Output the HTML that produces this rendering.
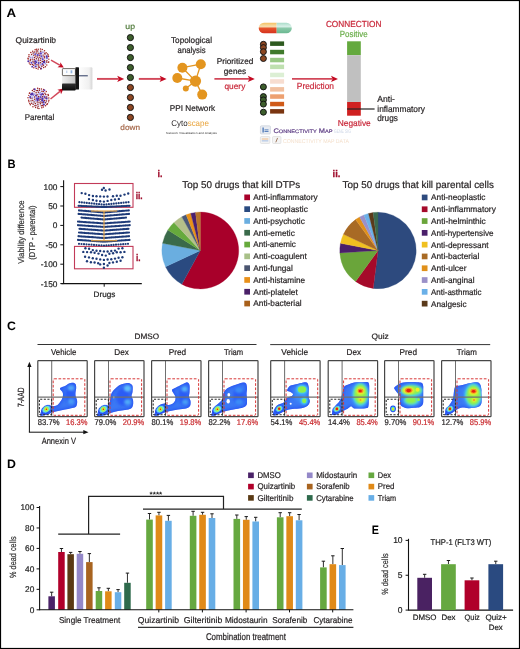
<!DOCTYPE html>
<html><head><meta charset="utf-8"><style>
html,body{margin:0;padding:0;background:#fff;}
svg{display:block;will-change:transform;text-rendering:geometricPrecision;font-family:"Liberation Sans", sans-serif;}
</style></head><body>
<svg width="520" height="649" viewBox="0 0 520 649">
<rect x="0" y="0" width="520" height="649" fill="#fff"/>
<text x="6.60" y="16.85" font-size="12.2" fill="#000" textLength="9.60" lengthAdjust="spacingAndGlyphs" font-weight="bold" >A</text><text x="15.60" y="43.10" font-size="8.3" fill="#231f20" stroke="#231f20" stroke-width="0.2" textLength="40.40" lengthAdjust="spacingAndGlyphs" >Quizartinib</text><ellipse cx="38.6" cy="59" rx="9.35" ry="8.94" fill="#e8eaf8"/><circle cx="38.56" cy="59.09" r="0.74" fill="#8c1b1b" /><circle cx="40.61" cy="60.34" r="0.74" fill="#9b1f1f" /><circle cx="38.78" cy="60.78" r="0.74" fill="#a52626" /><circle cx="37.13" cy="60.58" r="0.95" fill="#a89ce0" /><circle cx="36.41" cy="58.64" r="0.74" fill="#8c1b1b" /><circle cx="37.29" cy="56.97" r="0.74" fill="#9b1f1f" /><circle cx="39.21" cy="57.26" r="0.74" fill="#a52626" /><circle cx="40.79" cy="58.36" r="0.74" fill="#8c1b1b" /><circle cx="35.78" cy="55.96" r="0.74" fill="#9b1f1f" /><circle cx="37.79" cy="55.04" r="1.14" fill="#6444bc" /><circle cx="39.77" cy="55.16" r="0.74" fill="#9b1f1f" /><circle cx="41.47" cy="56.28" r="1.08" fill="#6444bc" /><circle cx="42.50" cy="57.88" r="0.95" fill="#a89ce0" /><circle cx="42.75" cy="59.28" r="0.99" fill="#6444bc" /><circle cx="42.31" cy="61.50" r="0.74" fill="#8c1b1b" /><circle cx="40.52" cy="62.86" r="0.74" fill="#8c1b1b" /><circle cx="38.62" cy="63.03" r="0.97" fill="#5838b0" /><circle cx="36.24" cy="62.32" r="0.97" fill="#5030a8" /><circle cx="35.12" cy="61.36" r="1.06" fill="#5030a8" /><circle cx="34.30" cy="59.49" r="0.74" fill="#a52626" /><circle cx="34.58" cy="57.56" r="0.74" fill="#9b1f1f" /><circle cx="38.83" cy="53.17" r="0.74" fill="#a52626" /><circle cx="40.79" cy="53.42" r="1.17" fill="#6444bc" /><circle cx="43.18" cy="55.12" r="0.74" fill="#a52626" /><circle cx="44.22" cy="56.53" r="0.74" fill="#9b1f1f" /><circle cx="44.56" cy="57.84" r="0.74" fill="#a52626" /><circle cx="44.45" cy="60.49" r="0.74" fill="#9b1f1f" /><circle cx="44.00" cy="61.88" r="1.19" fill="#5030a8" /><circle cx="42.54" cy="64.03" r="1.13" fill="#6444bc" /><circle cx="40.53" cy="64.89" r="0.95" fill="#a89ce0" /><circle cx="38.56" cy="64.92" r="0.74" fill="#9b1f1f" /><circle cx="36.92" cy="64.71" r="0.74" fill="#9b1f1f" /><circle cx="35.23" cy="63.75" r="0.98" fill="#5030a8" /><circle cx="34.02" cy="62.70" r="0.74" fill="#9b1f1f" /><circle cx="32.98" cy="61.19" r="0.74" fill="#8c1b1b" /><circle cx="32.44" cy="59.12" r="0.74" fill="#9b1f1f" /><circle cx="32.59" cy="57.33" r="0.95" fill="#a89ce0" /><circle cx="33.85" cy="55.28" r="0.74" fill="#8c1b1b" /><circle cx="35.25" cy="54.12" r="0.99" fill="#5838b0" /><circle cx="36.80" cy="52.95" r="0.74" fill="#8c1b1b" /><circle cx="30.39" cy="57.61" r="0.95" fill="#a89ce0" /><circle cx="31.59" cy="54.48" r="0.74" fill="#a52626" /><circle cx="33.20" cy="53.07" r="0.74" fill="#8c1b1b" /><circle cx="34.73" cy="52.08" r="0.74" fill="#9b1f1f" /><circle cx="36.61" cy="51.06" r="0.74" fill="#9b1f1f" /><circle cx="37.73" cy="51.09" r="0.74" fill="#9b1f1f" /><circle cx="40.77" cy="51.34" r="0.74" fill="#8c1b1b" /><circle cx="42.93" cy="52.24" r="0.95" fill="#a89ce0" /><circle cx="44.83" cy="53.29" r="0.74" fill="#9b1f1f" /><circle cx="45.00" cy="53.95" r="0.74" fill="#a52626" /><circle cx="46.72" cy="56.31" r="1.07" fill="#5030a8" /><circle cx="46.94" cy="57.89" r="0.98" fill="#6444bc" /><circle cx="46.92" cy="60.62" r="0.74" fill="#9b1f1f" /><circle cx="46.41" cy="62.00" r="0.74" fill="#8c1b1b" /><circle cx="45.29" cy="63.62" r="0.95" fill="#a89ce0" /><circle cx="43.36" cy="65.26" r="0.74" fill="#9b1f1f" /><circle cx="41.86" cy="66.30" r="0.74" fill="#8c1b1b" /><circle cx="39.51" cy="67.23" r="0.74" fill="#a52626" /><circle cx="38.50" cy="66.99" r="0.74" fill="#8c1b1b" /><circle cx="35.64" cy="66.46" r="1.06" fill="#5838b0" /><circle cx="33.69" cy="65.19" r="0.74" fill="#a52626" /><circle cx="32.30" cy="64.45" r="0.74" fill="#8c1b1b" /><circle cx="31.52" cy="62.70" r="1.04" fill="#6444bc" /><circle cx="30.23" cy="60.63" r="0.74" fill="#8c1b1b" /><circle cx="30.53" cy="59.43" r="0.74" fill="#a52626" /><circle cx="40.55" cy="49.07" r="0.74" fill="#9b1f1f" /><circle cx="42.32" cy="49.58" r="0.74" fill="#a52626" /><circle cx="44.52" cy="50.83" r="0.74" fill="#9b1f1f" /><circle cx="46.16" cy="52.64" r="0.74" fill="#9b1f1f" /><circle cx="47.49" cy="53.88" r="0.74" fill="#9b1f1f" /><circle cx="48.21" cy="55.07" r="0.74" fill="#8c1b1b" /><circle cx="48.50" cy="56.57" r="0.74" fill="#a52626" /><circle cx="48.80" cy="59.13" r="0.74" fill="#a52626" /><circle cx="48.77" cy="62.00" r="0.74" fill="#a52626" /><circle cx="48.12" cy="62.27" r="0.74" fill="#9b1f1f" /><circle cx="46.79" cy="65.01" r="0.74" fill="#a52626" /><circle cx="45.39" cy="66.84" r="0.74" fill="#8c1b1b" /><circle cx="43.68" cy="67.55" r="0.74" fill="#9b1f1f" /><circle cx="41.11" cy="68.44" r="1.05" fill="#6444bc" /><circle cx="40.76" cy="68.81" r="0.74" fill="#8c1b1b" /><circle cx="38.09" cy="68.92" r="0.74" fill="#9b1f1f" /><circle cx="36.23" cy="68.38" r="0.74" fill="#a52626" /><circle cx="33.84" cy="67.77" r="0.74" fill="#a52626" /><circle cx="32.21" cy="66.64" r="0.98" fill="#5838b0" /><circle cx="30.28" cy="64.48" r="0.74" fill="#9b1f1f" /><circle cx="29.30" cy="62.90" r="0.74" fill="#a52626" /><circle cx="28.36" cy="61.21" r="1.05" fill="#5030a8" /><circle cx="28.18" cy="59.05" r="0.74" fill="#9b1f1f" /><circle cx="28.05" cy="58.30" r="0.74" fill="#9b1f1f" /><circle cx="28.92" cy="56.44" r="0.74" fill="#a52626" /><circle cx="28.97" cy="54.72" r="0.74" fill="#9b1f1f" /><circle cx="30.83" cy="52.59" r="0.74" fill="#a52626" /><circle cx="32.73" cy="51.18" r="0.74" fill="#9b1f1f" /><circle cx="35.10" cy="49.83" r="0.74" fill="#a52626" /><circle cx="36.38" cy="49.29" r="0.74" fill="#a52626" /><circle cx="38.21" cy="49.30" r="0.74" fill="#9b1f1f" /><ellipse cx="38.6" cy="98.3" rx="9.35" ry="8.94" fill="#e8eaf8"/><circle cx="38.27" cy="98.34" r="1.19" fill="#5030a8" /><circle cx="36.71" cy="98.43" r="1.06" fill="#6444bc" /><circle cx="36.82" cy="96.72" r="0.95" fill="#a89ce0" /><circle cx="38.65" cy="96.42" r="0.74" fill="#9b1f1f" /><circle cx="40.58" cy="97.16" r="1.05" fill="#6444bc" /><circle cx="40.82" cy="99.16" r="0.74" fill="#8c1b1b" /><circle cx="39.26" cy="100.10" r="0.74" fill="#9b1f1f" /><circle cx="37.52" cy="100.00" r="1.19" fill="#5030a8" /><circle cx="38.98" cy="102.29" r="0.74" fill="#a52626" /><circle cx="37.25" cy="102.03" r="0.74" fill="#8c1b1b" /><circle cx="35.59" cy="100.67" r="0.95" fill="#a89ce0" /><circle cx="34.70" cy="99.16" r="0.74" fill="#9b1f1f" /><circle cx="34.58" cy="97.08" r="0.74" fill="#8c1b1b" /><circle cx="36.00" cy="95.47" r="0.99" fill="#5030a8" /><circle cx="37.15" cy="94.85" r="0.74" fill="#9b1f1f" /><circle cx="39.09" cy="93.99" r="0.95" fill="#a89ce0" /><circle cx="41.16" cy="94.77" r="1.10" fill="#6444bc" /><circle cx="42.53" cy="96.85" r="0.74" fill="#8c1b1b" /><circle cx="42.49" cy="98.67" r="1.17" fill="#5030a8" /><circle cx="42.34" cy="100.44" r="1.18" fill="#5030a8" /><circle cx="40.80" cy="101.98" r="0.74" fill="#8c1b1b" /><circle cx="33.34" cy="94.82" r="1.01" fill="#5838b0" /><circle cx="34.01" cy="94.08" r="0.95" fill="#a89ce0" /><circle cx="36.13" cy="92.83" r="0.74" fill="#9b1f1f" /><circle cx="38.43" cy="92.19" r="0.74" fill="#9b1f1f" /><circle cx="40.19" cy="92.79" r="0.95" fill="#a89ce0" /><circle cx="42.41" cy="93.88" r="1.14" fill="#6444bc" /><circle cx="43.25" cy="94.70" r="0.74" fill="#8c1b1b" /><circle cx="44.50" cy="96.87" r="1.07" fill="#6444bc" /><circle cx="45.14" cy="97.96" r="0.74" fill="#9b1f1f" /><circle cx="44.50" cy="100.58" r="0.74" fill="#9b1f1f" /><circle cx="43.64" cy="102.03" r="1.11" fill="#5838b0" /><circle cx="42.19" cy="102.86" r="0.74" fill="#8c1b1b" /><circle cx="40.38" cy="103.85" r="0.74" fill="#8c1b1b" /><circle cx="37.88" cy="104.23" r="0.74" fill="#9b1f1f" /><circle cx="35.35" cy="103.46" r="0.74" fill="#9b1f1f" /><circle cx="34.09" cy="102.00" r="0.74" fill="#8c1b1b" /><circle cx="32.79" cy="100.47" r="0.74" fill="#9b1f1f" /><circle cx="32.04" cy="98.62" r="0.74" fill="#9b1f1f" /><circle cx="32.36" cy="97.56" r="0.95" fill="#a89ce0" /><circle cx="43.80" cy="104.52" r="1.13" fill="#5838b0" /><circle cx="42.62" cy="105.55" r="0.74" fill="#9b1f1f" /><circle cx="41.33" cy="105.81" r="0.74" fill="#a52626" /><circle cx="38.09" cy="106.19" r="0.74" fill="#9b1f1f" /><circle cx="35.97" cy="105.51" r="0.74" fill="#a52626" /><circle cx="34.91" cy="105.74" r="0.74" fill="#8c1b1b" /><circle cx="33.12" cy="104.18" r="0.74" fill="#8c1b1b" /><circle cx="31.66" cy="103.18" r="0.74" fill="#9b1f1f" /><circle cx="31.05" cy="100.87" r="0.74" fill="#8c1b1b" /><circle cx="30.46" cy="97.99" r="0.74" fill="#8c1b1b" /><circle cx="30.21" cy="96.94" r="1.06" fill="#5838b0" /><circle cx="31.29" cy="94.32" r="1.19" fill="#5030a8" /><circle cx="32.19" cy="93.66" r="1.05" fill="#5030a8" /><circle cx="34.11" cy="91.49" r="0.74" fill="#9b1f1f" /><circle cx="36.30" cy="90.62" r="0.74" fill="#a52626" /><circle cx="37.45" cy="90.55" r="0.74" fill="#8c1b1b" /><circle cx="39.39" cy="90.28" r="0.74" fill="#8c1b1b" /><circle cx="41.94" cy="91.28" r="0.74" fill="#9b1f1f" /><circle cx="43.35" cy="91.45" r="0.74" fill="#9b1f1f" /><circle cx="44.96" cy="93.34" r="0.74" fill="#a52626" /><circle cx="45.73" cy="94.61" r="0.74" fill="#a52626" /><circle cx="46.69" cy="97.04" r="0.74" fill="#8c1b1b" /><circle cx="46.59" cy="98.45" r="1.05" fill="#5030a8" /><circle cx="46.38" cy="100.89" r="0.74" fill="#9b1f1f" /><circle cx="45.60" cy="102.69" r="0.74" fill="#8c1b1b" /><circle cx="27.99" cy="97.84" r="0.74" fill="#a52626" /><circle cx="28.77" cy="95.37" r="0.74" fill="#a52626" /><circle cx="29.37" cy="93.29" r="0.74" fill="#9b1f1f" /><circle cx="29.82" cy="93.11" r="0.74" fill="#a52626" /><circle cx="32.35" cy="90.39" r="0.74" fill="#8c1b1b" /><circle cx="33.79" cy="89.17" r="0.74" fill="#9b1f1f" /><circle cx="34.74" cy="89.34" r="0.98" fill="#5030a8" /><circle cx="37.62" cy="88.20" r="0.74" fill="#9b1f1f" /><circle cx="39.41" cy="88.71" r="0.74" fill="#9b1f1f" /><circle cx="41.45" cy="89.08" r="0.74" fill="#9b1f1f" /><circle cx="43.59" cy="89.58" r="0.74" fill="#9b1f1f" /><circle cx="44.37" cy="90.21" r="1.00" fill="#6444bc" /><circle cx="46.28" cy="91.53" r="0.74" fill="#a52626" /><circle cx="48.06" cy="94.60" r="0.74" fill="#9b1f1f" /><circle cx="48.37" cy="95.52" r="0.74" fill="#a52626" /><circle cx="48.83" cy="97.90" r="0.74" fill="#a52626" /><circle cx="48.87" cy="100.27" r="0.74" fill="#9b1f1f" /><circle cx="48.59" cy="101.87" r="0.74" fill="#9b1f1f" /><circle cx="47.48" cy="103.69" r="0.74" fill="#a52626" /><circle cx="46.90" cy="104.57" r="0.74" fill="#8c1b1b" /><circle cx="45.48" cy="105.72" r="0.74" fill="#9b1f1f" /><circle cx="43.39" cy="106.89" r="0.74" fill="#a52626" /><circle cx="41.81" cy="107.82" r="0.74" fill="#9b1f1f" /><circle cx="38.96" cy="108.48" r="0.74" fill="#8c1b1b" /><circle cx="37.56" cy="108.10" r="0.74" fill="#8c1b1b" /><circle cx="35.60" cy="107.49" r="0.74" fill="#a52626" /><circle cx="32.95" cy="106.78" r="0.74" fill="#9b1f1f" /><circle cx="30.38" cy="104.81" r="0.74" fill="#9b1f1f" /><circle cx="29.78" cy="103.56" r="0.74" fill="#a52626" /><circle cx="28.94" cy="101.70" r="0.74" fill="#a52626" /><circle cx="28.68" cy="100.17" r="0.74" fill="#9b1f1f" /><text x="24.80" y="119.50" font-size="8.4" fill="#231f20" stroke="#231f20" stroke-width="0.2" textLength="29.40" lengthAdjust="spacingAndGlyphs" >Parental</text><line x1="51.00" y1="60.20" x2="59.79" y2="65.14" stroke="#d2485a" stroke-width="1.5" /><path d="M63.80,67.40 L57.50,67.18 L60.14,65.34 L60.34,62.13 Z" fill="#c40a22"/><line x1="50.50" y1="99.00" x2="60.00" y2="91.46" stroke="#d2485a" stroke-width="1.5" /><path d="M63.60,88.60 L61.02,94.35 L60.31,91.21 L57.41,89.81 Z" fill="#c40a22"/><defs>
<linearGradient id="seqR" x1="0" x2="1" y1="0" y2="0"><stop offset="0" stop-color="#fdfdfd"/><stop offset="0.75" stop-color="#f0f0f0"/><stop offset="1" stop-color="#d6d6d6"/></linearGradient>
<linearGradient id="seqM" x1="0" x2="1"><stop offset="0" stop-color="#f0f0f0"/><stop offset="1" stop-color="#c4c4c4"/></linearGradient>
<linearGradient id="seqB" x1="0" x2="0" y1="0" y2="1"><stop offset="0" stop-color="#333"/><stop offset="1" stop-color="#0a0a0a"/></linearGradient>
</defs><rect x="79.00" y="67.30" width="13.40" height="22.30" fill="url(#seqR)" rx="1.2"/><rect x="62.00" y="76.00" width="13.80" height="8.00" fill="url(#seqM)" /><rect x="62.00" y="83.40" width="13.80" height="7.00" fill="url(#seqB)" rx="0.8"/><rect x="62.40" y="68.60" width="13.00" height="7.00" fill="#fbfcfd" stroke="#5f5a55" stroke-width="0.9" rx="0.6"/><rect x="66.00" y="70.60" width="1.40" height="2.40" fill="#c4d4ec" /><rect x="70.60" y="70.30" width="1.70" height="3.00" fill="#8fb2e0" /><rect x="75.40" y="67.30" width="3.60" height="22.30" fill="#141414" rx="0.6"/><rect x="79.00" y="75.30" width="8.80" height="1.00" fill="#2c3a62" /><line x1="97.00" y1="78.90" x2="118.70" y2="78.90" stroke="#d2485a" stroke-width="1.9" /><path d="M124.20,78.90 L117.20,75.80 L118.80,78.90 L117.20,82.00 Z" fill="#c40a22"/><line x1="138.80" y1="78.90" x2="161.10" y2="78.90" stroke="#d2485a" stroke-width="1.9" /><path d="M166.60,78.90 L159.60,75.80 L161.20,78.90 L159.60,82.00 Z" fill="#c40a22"/><line x1="214.40" y1="78.90" x2="249.30" y2="78.90" stroke="#d2485a" stroke-width="1.9" /><path d="M254.80,78.90 L247.80,75.80 L249.40,78.90 L247.80,82.00 Z" fill="#c40a22"/><line x1="292.00" y1="78.90" x2="332.50" y2="78.90" stroke="#d2485a" stroke-width="1.9" /><path d="M338.00,78.90 L331.00,75.80 L332.60,78.90 L331.00,82.00 Z" fill="#c40a22"/><text x="125.30" y="29.40" font-size="8.0" fill="#4f7a3a" stroke="#4f7a3a" stroke-width="0.2" textLength="9.70" lengthAdjust="spacingAndGlyphs" >up</text><circle cx="130.40" cy="37.60" r="3.10" fill="#3d5e2c" stroke="#111" stroke-width="0.95"/><circle cx="130.40" cy="47.58" r="3.10" fill="#3d5e2c" stroke="#111" stroke-width="0.95"/><circle cx="130.40" cy="57.56" r="3.10" fill="#3d5e2c" stroke="#111" stroke-width="0.95"/><circle cx="130.40" cy="67.54" r="3.10" fill="#3d5e2c" stroke="#111" stroke-width="0.95"/><circle cx="130.40" cy="77.52" r="3.10" fill="#3d5e2c" stroke="#111" stroke-width="0.95"/><circle cx="130.40" cy="87.50" r="3.10" fill="#8c4622" stroke="#111" stroke-width="0.95"/><circle cx="130.40" cy="97.48" r="3.10" fill="#8c4622" stroke="#111" stroke-width="0.95"/><circle cx="130.40" cy="107.46" r="3.10" fill="#8c4622" stroke="#111" stroke-width="0.95"/><circle cx="130.40" cy="117.44" r="3.10" fill="#8c4622" stroke="#111" stroke-width="0.95"/><text x="120.30" y="129.70" font-size="7.8" fill="#a5684a" stroke="#a5684a" stroke-width="0.2" textLength="19.70" lengthAdjust="spacingAndGlyphs" >down</text><text x="171.00" y="43.40" font-size="8.5" fill="#231f20" stroke="#231f20" stroke-width="0.2" textLength="41.00" lengthAdjust="spacingAndGlyphs" >Topological</text><text x="177.60" y="52.70" font-size="8.5" fill="#231f20" stroke="#231f20" stroke-width="0.2" textLength="28.00" lengthAdjust="spacingAndGlyphs" >analysis</text><line x1="182.40" y1="67.70" x2="200.80" y2="64.20" stroke="#e3951f" stroke-width="1.3" /><line x1="182.40" y1="67.70" x2="195.50" y2="81.10" stroke="#e3951f" stroke-width="1.3" /><line x1="200.80" y1="64.20" x2="195.50" y2="81.10" stroke="#e3951f" stroke-width="1.3" /><line x1="177.30" y1="78.00" x2="195.50" y2="81.10" stroke="#e3951f" stroke-width="1.3" /><line x1="185.80" y1="88.50" x2="195.50" y2="81.10" stroke="#e3951f" stroke-width="1.3" /><line x1="195.50" y1="81.10" x2="202.20" y2="94.60" stroke="#e3951f" stroke-width="1.3" /><circle cx="182.40" cy="67.70" r="5.00" fill="#e3951f" /><circle cx="200.80" cy="64.20" r="5.00" fill="#e3951f" /><circle cx="177.30" cy="78.00" r="5.00" fill="#e3951f" /><circle cx="195.50" cy="81.10" r="5.60" fill="#e3951f" /><circle cx="185.80" cy="88.50" r="3.00" fill="#e3951f" /><circle cx="202.20" cy="94.60" r="5.00" fill="#e3951f" /><text x="169.80" y="110.60" font-size="8.2" fill="#231f20" stroke="#231f20" stroke-width="0.2" textLength="45.40" lengthAdjust="spacingAndGlyphs" >PPI Network</text><text x="171.3" y="125.6" font-size="8.4" fill="#231f20" textLength="37.6" lengthAdjust="spacingAndGlyphs">Cyto<tspan fill="#e9a43c">scape</tspan></text><text x="166" y="133.9" font-size="2.9" fill="#3a3a3a" textLength="51" lengthAdjust="spacingAndGlyphs">Network Visualization and Analysis</text><text x="216.70" y="64.00" font-size="8.2" fill="#231f20" stroke="#231f20" stroke-width="0.2" textLength="36.60" lengthAdjust="spacingAndGlyphs" >Prioritized</text><text x="223.80" y="73.70" font-size="8.2" fill="#231f20" stroke="#231f20" stroke-width="0.2" textLength="22.40" lengthAdjust="spacingAndGlyphs" >genes</text><text x="224.50" y="88.80" font-size="8.2" fill="#c9283a" stroke="#c9283a" stroke-width="0.2" textLength="20.80" lengthAdjust="spacingAndGlyphs" >query</text><defs><linearGradient id="pillL" x1="0" x2="0" y1="0" y2="1"><stop offset="0" stop-color="#f5c060"/><stop offset="0.35" stop-color="#f7e0b0"/><stop offset="0.55" stop-color="#e5522a"/><stop offset="1" stop-color="#d5321e"/></linearGradient>
<linearGradient id="pillR" x1="0" x2="0" y1="0" y2="1"><stop offset="0" stop-color="#a8dcc8"/><stop offset="0.35" stop-color="#d8f0e8"/><stop offset="0.55" stop-color="#88c8a8"/><stop offset="1" stop-color="#6ab890"/></linearGradient></defs><path d="M276.7,22.7 L264,22.7 A5.3,5.3 0 0 0 264,33.3 L276.7,33.3 Z" fill="url(#pillL)"/><path d="M276.7,22.7 L286.5,22.7 A5.3,5.3 0 0 1 286.5,33.3 L276.7,33.3 Z" fill="url(#pillR)"/><rect x="270.10" y="41.40" width="14.00" height="4.50" fill="#2d5a1f" /><rect x="270.10" y="49.80" width="14.00" height="4.50" fill="#3f7a2b" /><rect x="270.10" y="57.80" width="14.00" height="4.50" fill="#98c884" /><rect x="270.10" y="64.60" width="14.00" height="4.50" fill="#bfe0b0" /><rect x="270.10" y="72.70" width="14.00" height="4.50" fill="#dcefd4" /><rect x="270.10" y="79.20" width="14.00" height="4.50" fill="#f7ddd0" /><rect x="270.10" y="87.10" width="14.00" height="4.50" fill="#f1c0a0" /><rect x="270.10" y="94.30" width="14.00" height="4.50" fill="#eda070" /><rect x="270.10" y="101.80" width="14.00" height="4.50" fill="#d05a18" /><rect x="270.10" y="109.10" width="14.00" height="4.50" fill="#7a3510" /><circle cx="263.40" cy="44.30" r="3.00" fill="#8c4622" stroke="#111" stroke-width="0.95"/><circle cx="263.40" cy="47.60" r="3.00" fill="#8c4622" stroke="#111" stroke-width="0.95"/><circle cx="263.40" cy="51.70" r="3.00" fill="#8c4622" stroke="#111" stroke-width="0.95"/><circle cx="263.40" cy="58.50" r="3.00" fill="#8c4622" stroke="#111" stroke-width="0.95"/><circle cx="263.40" cy="86.90" r="3.00" fill="#3d5e2c" stroke="#111" stroke-width="0.95"/><circle cx="263.40" cy="96.60" r="3.00" fill="#3d5e2c" stroke="#111" stroke-width="0.95"/><circle cx="263.40" cy="99.90" r="3.00" fill="#3d5e2c" stroke="#111" stroke-width="0.95"/><circle cx="263.40" cy="104.10" r="3.00" fill="#3d5e2c" stroke="#111" stroke-width="0.95"/><circle cx="263.40" cy="112.20" r="3.00" fill="#3d5e2c" stroke="#111" stroke-width="0.95"/><rect x="260.40" y="125.80" width="10.00" height="8.20" fill="#e8ecf2" rx="1" stroke="#b8c0cc" stroke-width="0.5"/><rect x="262.50" y="127.50" width="1.20" height="5.00" fill="#3a6ab0" /><rect x="264.50" y="129.50" width="4.00" height="0.80" fill="#3a6ab0" /><rect x="264.50" y="131.20" width="4.00" height="0.80" fill="#3a6ab0" /><defs><linearGradient id="cmf" x1="0" x2="1"><stop offset="0" stop-color="#c8d0e8"/><stop offset="1" stop-color="#ffffff"/></linearGradient><linearGradient id="cmf2" x1="0" x2="1"><stop offset="0" stop-color="#f0d8b8"/><stop offset="1" stop-color="#ffffff"/></linearGradient></defs><text x="334" y="132.6" font-size="5.2" fill="#c0cce0" textLength="17" lengthAdjust="spacingAndGlyphs" opacity="0.8">GENE SIG</text><text x="273.4" y="133.0" font-size="6.6" fill="#65468a" stroke="#65468a" stroke-width="0.2" textLength="59.2" lengthAdjust="spacingAndGlyphs">C<tspan font-size="5.0">ONNECTIVITY</tspan> M<tspan font-size="5.0">AP</tspan></text><rect x="260.40" y="136.50" width="9.50" height="7.00" fill="#f2f2f2" rx="1" stroke="#c8c8c8" stroke-width="0.4"/><rect x="261.80" y="138.60" width="6.50" height="0.80" fill="#f0b070" /><rect x="261.80" y="140.50" width="6.50" height="0.80" fill="#90b0e0" /><rect x="272.50" y="136.50" width="8.50" height="7.00" fill="#f4f4f4" rx="1" stroke="#c8c8c8" stroke-width="0.4"/><line x1="275.80" y1="142.30" x2="277.60" y2="137.90" stroke="#8a5a3a" stroke-width="0.8" /><text x="283" y="142.6" font-size="5.6" fill="#eccaa8" textLength="66" lengthAdjust="spacingAndGlyphs" opacity="0.6">CONNECTIVITY MAP DATA</text><text x="325.90" y="27.10" font-size="8.8" fill="#c9283a" stroke="#c9283a" stroke-width="0.2" textLength="55.60" lengthAdjust="spacingAndGlyphs" >CONNECTION</text><text x="339.80" y="36.50" font-size="8.8" fill="#6aae4a" stroke="#6aae4a" stroke-width="0.2" textLength="27.80" lengthAdjust="spacingAndGlyphs" >Positive</text><rect x="347.10" y="41.30" width="13.70" height="13.90" fill="#64a93e" /><rect x="347.10" y="55.20" width="13.70" height="46.80" fill="#c0c0c0" /><rect x="347.10" y="102.00" width="13.70" height="13.70" fill="#cf2020" /><line x1="347.10" y1="109.00" x2="374.60" y2="109.00" stroke="#222" stroke-width="1.2" /><text x="296.80" y="88.70" font-size="8.8" fill="#c9283a" stroke="#c9283a" stroke-width="0.2" textLength="37.20" lengthAdjust="spacingAndGlyphs" >Prediction</text><text x="337.80" y="125.70" font-size="8.5" fill="#c9283a" stroke="#c9283a" stroke-width="0.2" textLength="32.90" lengthAdjust="spacingAndGlyphs" >Negative</text><text x="377.30" y="102.30" font-size="8.8" fill="#231f20" stroke="#231f20" stroke-width="0.2" textLength="17.60" lengthAdjust="spacingAndGlyphs" >Anti-</text><text x="377.30" y="111.50" font-size="8.8" fill="#231f20" stroke="#231f20" stroke-width="0.2" textLength="47.60" lengthAdjust="spacingAndGlyphs" >inflammatory</text><text x="377.30" y="120.60" font-size="8.8" fill="#231f20" stroke="#231f20" stroke-width="0.2" textLength="20.50" lengthAdjust="spacingAndGlyphs" >drugs</text>
<text x="7.60" y="167.60" font-size="12.2" fill="#000" textLength="8.10" lengthAdjust="spacingAndGlyphs" font-weight="bold" >B</text><line x1="63.60" y1="180.20" x2="63.60" y2="284.10" stroke="#111" stroke-width="1.1" /><line x1="61.40" y1="283.60" x2="141.80" y2="283.60" stroke="#111" stroke-width="1.1" /><line x1="104.20" y1="283.60" x2="104.20" y2="286.70" stroke="#111" stroke-width="1.0" /><line x1="60.30" y1="186.60" x2="63.60" y2="186.60" stroke="#111" stroke-width="1.0" /><text x="57.40" y="189.55" font-size="8.3" fill="#222" stroke="#222" stroke-width="0.2" text-anchor="end" >100</text><line x1="60.30" y1="206.00" x2="63.60" y2="206.00" stroke="#111" stroke-width="1.0" /><text x="57.40" y="208.95" font-size="8.3" fill="#222" stroke="#222" stroke-width="0.2" text-anchor="end" >50</text><line x1="60.30" y1="225.40" x2="63.60" y2="225.40" stroke="#111" stroke-width="1.0" /><text x="57.40" y="228.35" font-size="8.3" fill="#222" stroke="#222" stroke-width="0.2" text-anchor="end" >0</text><line x1="60.30" y1="244.80" x2="63.60" y2="244.80" stroke="#111" stroke-width="1.0" /><text x="57.40" y="247.75" font-size="8.3" fill="#222" stroke="#222" stroke-width="0.2" text-anchor="end" >-50</text><line x1="60.30" y1="264.20" x2="63.60" y2="264.20" stroke="#111" stroke-width="1.0" /><text x="57.40" y="267.15" font-size="8.3" fill="#222" stroke="#222" stroke-width="0.2" text-anchor="end" >-100</text><line x1="60.30" y1="283.60" x2="63.60" y2="283.60" stroke="#111" stroke-width="1.0" /><text x="57.40" y="286.55" font-size="8.3" fill="#222" stroke="#222" stroke-width="0.2" text-anchor="end" >-150</text><text x="24.20" y="232.10" font-size="8.6" fill="#333" stroke="#333" stroke-width="0.2" textLength="63.40" lengthAdjust="spacingAndGlyphs" text-anchor="middle" transform="rotate(-90 24.20 232.10)" >Viability difference</text><text x="35.20" y="232.60" font-size="8.6" fill="#333" stroke="#333" stroke-width="0.2" textLength="54.30" lengthAdjust="spacingAndGlyphs" text-anchor="middle" transform="rotate(-90 35.20 232.60)" >(DTP - parental)</text><text x="93.60" y="296.90" font-size="8.0" fill="#222" stroke="#222" stroke-width="0.2" textLength="21.80" lengthAdjust="spacingAndGlyphs" >Drugs</text><rect x="74.50" y="183.50" width="58.50" height="23.80" fill="none" stroke="#c23a58" stroke-width="1.1"/><rect x="74.50" y="246.40" width="58.50" height="22.40" fill="none" stroke="#c23a58" stroke-width="1.1"/><text x="135.70" y="199.30" font-size="9.8" fill="#a0102e" textLength="7.00" lengthAdjust="spacingAndGlyphs" font-weight="bold" stroke="#a0102e" stroke-width="0.3">ii.</text><text x="135.90" y="261.30" font-size="9.8" fill="#a0102e" textLength="4.60" lengthAdjust="spacingAndGlyphs" font-weight="bold" stroke="#a0102e" stroke-width="0.3">i.</text><path d="M79.40,202.20h0M81.86,202.45h0M84.32,202.70h0M86.78,202.95h0M89.24,203.20h0M91.70,203.45h0M94.16,203.70h0M96.62,203.95h0M99.08,204.20h0M101.54,204.45h0M104.00,204.70h0M106.45,204.45h0M108.90,204.20h0M111.35,203.95h0M113.80,203.70h0M116.25,203.45h0M118.70,203.20h0M121.15,202.95h0M123.60,202.70h0M126.05,202.45h0M128.50,202.20h0" stroke="#1d3a78" stroke-width="2.20" stroke-linecap="round" fill="none"/><path d="M78.60,205.80h0M79.87,205.86h0M81.14,205.92h0M82.41,205.98h0M83.68,206.04h0M84.95,206.10h0M86.22,206.16h0M87.49,206.22h0M88.76,206.28h0M90.03,206.34h0M91.30,206.40h0M92.57,206.46h0M93.84,206.52h0M95.11,206.58h0M96.38,206.64h0M97.65,206.70h0M98.92,206.76h0M100.19,206.82h0M101.46,206.88h0M102.73,206.94h0M104.00,207.00h0M105.28,206.94h0M106.55,206.88h0M107.83,206.82h0M109.10,206.76h0M110.38,206.70h0M111.65,206.64h0M112.92,206.58h0M114.20,206.52h0M115.47,206.46h0M116.75,206.40h0M118.03,206.34h0M119.30,206.28h0M120.58,206.22h0M121.85,206.16h0M123.12,206.10h0M124.40,206.04h0M125.67,205.98h0M126.95,205.92h0M128.22,205.86h0M129.50,205.80h0" stroke="#1d3a78" stroke-width="2.16" stroke-linecap="round" fill="none"/><path d="M79.00,210.40h0M80.32,210.51h0M81.63,210.62h0M82.95,210.73h0M84.26,210.84h0M85.58,210.95h0M86.89,211.06h0M88.21,211.17h0M89.53,211.28h0M90.84,211.39h0M92.16,211.51h0M93.47,211.62h0M94.79,211.73h0M96.11,211.84h0M97.42,211.95h0M98.74,212.06h0M100.05,212.17h0M101.37,212.28h0M102.68,212.39h0M104.00,212.50h0M105.31,212.39h0M106.61,212.28h0M107.92,212.17h0M109.22,212.06h0M110.53,211.95h0M111.83,211.84h0M113.14,211.73h0M114.44,211.62h0M115.75,211.51h0M117.05,211.39h0M118.36,211.28h0M119.66,211.17h0M120.97,211.06h0M122.27,210.95h0M123.58,210.84h0M124.88,210.73h0M126.19,210.62h0M127.49,210.51h0M128.80,210.40h0" stroke="#1d3a78" stroke-width="2.16" stroke-linecap="round" fill="none"/><path d="M78.60,213.90h0M79.87,214.00h0M81.14,214.11h0M82.41,214.22h0M83.68,214.32h0M84.95,214.43h0M86.22,214.53h0M87.49,214.63h0M88.76,214.74h0M90.03,214.84h0M91.30,214.95h0M92.57,215.06h0M93.84,215.16h0M95.11,215.27h0M96.38,215.37h0M97.65,215.47h0M98.92,215.58h0M100.19,215.69h0M101.46,215.79h0M102.73,215.90h0M104.00,216.00h0M105.32,215.89h0M106.63,215.78h0M107.95,215.67h0M109.26,215.56h0M110.58,215.45h0M111.89,215.34h0M113.21,215.23h0M114.53,215.12h0M115.84,215.01h0M117.16,214.89h0M118.47,214.78h0M119.79,214.67h0M121.11,214.56h0M122.42,214.45h0M123.74,214.34h0M125.05,214.23h0M126.37,214.12h0M127.68,214.01h0M129.00,213.90h0" stroke="#1d3a78" stroke-width="2.16" stroke-linecap="round" fill="none"/><path d="M81.50,217.60h0M82.82,217.71h0M84.15,217.82h0M85.47,217.94h0M86.79,218.05h0M88.12,218.16h0M89.44,218.27h0M90.76,218.38h0M92.09,218.49h0M93.41,218.61h0M94.74,218.72h0M96.06,218.83h0M97.38,218.94h0M98.71,219.05h0M100.03,219.16h0M101.35,219.28h0M102.68,219.39h0M104.00,219.50h0M105.29,219.39h0M106.59,219.28h0M107.88,219.16h0M109.18,219.05h0M110.47,218.94h0M111.76,218.83h0M113.06,218.72h0M114.35,218.61h0M115.65,218.49h0M116.94,218.38h0M118.24,218.27h0M119.53,218.16h0M120.82,218.05h0M122.12,217.94h0M123.41,217.82h0M124.71,217.71h0M126.00,217.60h0" stroke="#1d3a78" stroke-width="2.16" stroke-linecap="round" fill="none"/><path d="M78.00,221.60h0M79.30,221.69h0M80.60,221.78h0M81.90,221.87h0M83.20,221.96h0M84.50,222.05h0M85.80,222.14h0M87.10,222.23h0M88.40,222.32h0M89.70,222.41h0M91.00,222.50h0M92.30,222.59h0M93.60,222.68h0M94.90,222.77h0M96.20,222.86h0M97.50,222.95h0M98.80,223.04h0M100.10,223.13h0M101.40,223.22h0M102.70,223.31h0M104.00,223.40h0M105.28,223.31h0M106.57,223.22h0M107.86,223.13h0M109.14,223.04h0M110.42,222.95h0M111.71,222.86h0M112.99,222.77h0M114.28,222.68h0M115.56,222.59h0M116.85,222.50h0M118.13,222.41h0M119.42,222.32h0M120.70,222.23h0M121.99,222.14h0M123.27,222.05h0M124.56,221.96h0M125.84,221.87h0M127.13,221.78h0M128.41,221.69h0M129.70,221.60h0" stroke="#1d3a78" stroke-width="2.16" stroke-linecap="round" fill="none"/><path d="M78.00,225.20h0M79.30,225.28h0M80.60,225.37h0M81.90,225.45h0M83.20,225.54h0M84.50,225.62h0M85.80,225.71h0M87.10,225.79h0M88.40,225.88h0M89.70,225.97h0M91.00,226.05h0M92.30,226.13h0M93.60,226.22h0M94.90,226.31h0M96.20,226.39h0M97.50,226.47h0M98.80,226.56h0M100.10,226.65h0M101.40,226.73h0M102.70,226.81h0M104.00,226.90h0M105.28,226.81h0M106.57,226.73h0M107.86,226.65h0M109.14,226.56h0M110.42,226.47h0M111.71,226.39h0M112.99,226.31h0M114.28,226.22h0M115.56,226.13h0M116.85,226.05h0M118.13,225.97h0M119.42,225.88h0M120.70,225.79h0M121.99,225.71h0M123.27,225.62h0M124.56,225.54h0M125.84,225.45h0M127.13,225.37h0M128.41,225.28h0M129.70,225.20h0" stroke="#1d3a78" stroke-width="2.16" stroke-linecap="round" fill="none"/><path d="M79.50,228.80h0M80.79,228.89h0M82.08,228.99h0M83.37,229.08h0M84.66,229.18h0M85.95,229.27h0M87.24,229.37h0M88.53,229.46h0M89.82,229.56h0M91.11,229.65h0M92.39,229.75h0M93.68,229.84h0M94.97,229.94h0M96.26,230.03h0M97.55,230.13h0M98.84,230.22h0M100.13,230.32h0M101.42,230.41h0M102.71,230.51h0M104.00,230.60h0M105.29,230.51h0M106.58,230.41h0M107.87,230.32h0M109.16,230.22h0M110.45,230.13h0M111.74,230.03h0M113.03,229.94h0M114.32,229.84h0M115.61,229.75h0M116.89,229.65h0M118.18,229.56h0M119.47,229.46h0M120.76,229.37h0M122.05,229.27h0M123.34,229.18h0M124.63,229.08h0M125.92,228.99h0M127.21,228.89h0M128.50,228.80h0" stroke="#1d3a78" stroke-width="2.16" stroke-linecap="round" fill="none"/><path d="M79.00,232.50h0M80.32,232.59h0M81.63,232.69h0M82.95,232.78h0M84.26,232.88h0M85.58,232.97h0M86.89,233.07h0M88.21,233.16h0M89.53,233.26h0M90.84,233.35h0M92.16,233.45h0M93.47,233.54h0M94.79,233.64h0M96.11,233.73h0M97.42,233.83h0M98.74,233.92h0M100.05,234.02h0M101.37,234.11h0M102.68,234.21h0M104.00,234.30h0M105.32,234.21h0M106.63,234.11h0M107.95,234.02h0M109.26,233.92h0M110.58,233.83h0M111.89,233.73h0M113.21,233.64h0M114.53,233.54h0M115.84,233.45h0M117.16,233.35h0M118.47,233.26h0M119.79,233.16h0M121.11,233.07h0M122.42,232.97h0M123.74,232.88h0M125.05,232.78h0M126.37,232.69h0M127.68,232.59h0M129.00,232.50h0" stroke="#1d3a78" stroke-width="2.16" stroke-linecap="round" fill="none"/><path d="M78.50,236.20h0M79.78,236.29h0M81.05,236.38h0M82.33,236.47h0M83.60,236.56h0M84.88,236.65h0M86.15,236.74h0M87.42,236.83h0M88.70,236.92h0M89.97,237.01h0M91.25,237.10h0M92.53,237.19h0M93.80,237.28h0M95.08,237.37h0M96.35,237.46h0M97.62,237.55h0M98.90,237.64h0M100.17,237.73h0M101.45,237.82h0M102.72,237.91h0M104.00,238.00h0M105.32,237.91h0M106.63,237.81h0M107.95,237.72h0M109.26,237.62h0M110.58,237.53h0M111.89,237.43h0M113.21,237.34h0M114.53,237.24h0M115.84,237.15h0M117.16,237.05h0M118.47,236.96h0M119.79,236.86h0M121.11,236.77h0M122.42,236.67h0M123.74,236.58h0M125.05,236.48h0M126.37,236.39h0M127.68,236.29h0M129.00,236.20h0" stroke="#1d3a78" stroke-width="2.16" stroke-linecap="round" fill="none"/><path d="M78.00,239.90h0M79.30,239.99h0M80.60,240.08h0M81.90,240.17h0M83.20,240.26h0M84.50,240.35h0M85.80,240.44h0M87.10,240.53h0M88.40,240.62h0M89.70,240.71h0M91.00,240.80h0M92.30,240.89h0M93.60,240.98h0M94.90,241.07h0M96.20,241.16h0M97.50,241.25h0M98.80,241.34h0M100.10,241.43h0M101.40,241.52h0M102.70,241.61h0M104.00,241.70h0M105.28,241.61h0M106.55,241.52h0M107.83,241.43h0M109.10,241.34h0M110.38,241.25h0M111.65,241.16h0M112.92,241.07h0M114.20,240.98h0M115.47,240.89h0M116.75,240.80h0M118.03,240.71h0M119.30,240.62h0M120.58,240.53h0M121.85,240.44h0M123.12,240.35h0M124.40,240.26h0M125.67,240.17h0M126.95,240.08h0M128.22,239.99h0M129.50,239.90h0" stroke="#1d3a78" stroke-width="2.16" stroke-linecap="round" fill="none"/><path d="M79.00,243.80h0M81.50,243.98h0M84.00,244.16h0M86.50,244.34h0M89.00,244.52h0M91.50,244.70h0M94.00,244.88h0M96.50,245.06h0M99.00,245.24h0M101.50,245.42h0M104.00,245.60h0M106.40,245.42h0M108.80,245.24h0M111.20,245.06h0M113.60,244.88h0M116.00,244.70h0M118.40,244.52h0M120.80,244.34h0M123.20,244.16h0M125.60,243.98h0M128.00,243.80h0" stroke="#1d3a78" stroke-width="2.20" stroke-linecap="round" fill="none"/><circle cx="102.00" cy="189.70" r="1.18" fill="#1d3a78" /><circle cx="103.80" cy="188.00" r="1.18" fill="#1d3a78" /><circle cx="105.60" cy="190.50" r="1.18" fill="#1d3a78" /><circle cx="109.50" cy="189.50" r="1.18" fill="#1d3a78" /><circle cx="81.70" cy="193.10" r="1.18" fill="#1d3a78" /><circle cx="85.40" cy="193.80" r="1.18" fill="#1d3a78" /><circle cx="89.10" cy="195.10" r="1.18" fill="#1d3a78" /><circle cx="92.90" cy="196.00" r="1.18" fill="#1d3a78" /><circle cx="96.50" cy="196.20" r="1.18" fill="#1d3a78" /><circle cx="100.20" cy="196.40" r="1.18" fill="#1d3a78" /><circle cx="103.90" cy="196.60" r="1.18" fill="#1d3a78" /><circle cx="107.50" cy="196.50" r="1.18" fill="#1d3a78" /><circle cx="113.00" cy="196.20" r="1.18" fill="#1d3a78" /><circle cx="116.80" cy="195.80" r="1.18" fill="#1d3a78" /><circle cx="120.50" cy="195.70" r="1.18" fill="#1d3a78" /><circle cx="124.50" cy="194.60" r="1.18" fill="#1d3a78" /><circle cx="128.20" cy="193.50" r="1.18" fill="#1d3a78" /><circle cx="89.00" cy="199.10" r="1.18" fill="#1d3a78" /><circle cx="92.90" cy="200.00" r="1.18" fill="#1d3a78" /><circle cx="96.50" cy="200.80" r="1.18" fill="#1d3a78" /><circle cx="100.20" cy="201.30" r="1.18" fill="#1d3a78" /><circle cx="103.90" cy="201.60" r="1.18" fill="#1d3a78" /><circle cx="107.60" cy="200.90" r="1.18" fill="#1d3a78" /><circle cx="111.30" cy="200.00" r="1.18" fill="#1d3a78" /><circle cx="115.00" cy="199.50" r="1.18" fill="#1d3a78" /><circle cx="118.80" cy="198.90" r="1.18" fill="#1d3a78" /><circle cx="85.40" cy="248.30" r="1.18" fill="#1d3a78" /><circle cx="89.10" cy="248.70" r="1.18" fill="#1d3a78" /><circle cx="92.80" cy="250.10" r="1.18" fill="#1d3a78" /><circle cx="96.50" cy="250.80" r="1.18" fill="#1d3a78" /><circle cx="100.20" cy="251.00" r="1.18" fill="#1d3a78" /><circle cx="103.90" cy="251.40" r="1.18" fill="#1d3a78" /><circle cx="107.60" cy="251.50" r="1.18" fill="#1d3a78" /><circle cx="111.30" cy="251.00" r="1.18" fill="#1d3a78" /><circle cx="115.00" cy="250.60" r="1.18" fill="#1d3a78" /><circle cx="118.60" cy="248.60" r="1.18" fill="#1d3a78" /><circle cx="122.40" cy="248.30" r="1.18" fill="#1d3a78" /><circle cx="83.30" cy="251.90" r="1.18" fill="#1d3a78" /><circle cx="87.10" cy="252.10" r="1.18" fill="#1d3a78" /><circle cx="91.00" cy="252.30" r="1.18" fill="#1d3a78" /><circle cx="94.60" cy="252.80" r="1.18" fill="#1d3a78" /><circle cx="98.50" cy="253.60" r="1.18" fill="#1d3a78" /><circle cx="102.10" cy="255.00" r="1.18" fill="#1d3a78" /><circle cx="105.80" cy="255.60" r="1.18" fill="#1d3a78" /><circle cx="109.40" cy="253.80" r="1.18" fill="#1d3a78" /><circle cx="113.10" cy="253.30" r="1.18" fill="#1d3a78" /><circle cx="116.80" cy="252.30" r="1.18" fill="#1d3a78" /><circle cx="120.60" cy="252.20" r="1.18" fill="#1d3a78" /><circle cx="124.40" cy="251.90" r="1.18" fill="#1d3a78" /><circle cx="85.10" cy="256.80" r="1.18" fill="#1d3a78" /><circle cx="89.00" cy="257.40" r="1.18" fill="#1d3a78" /><circle cx="92.80" cy="258.30" r="1.18" fill="#1d3a78" /><circle cx="96.50" cy="258.80" r="1.18" fill="#1d3a78" /><circle cx="100.20" cy="259.40" r="1.18" fill="#1d3a78" /><circle cx="103.90" cy="259.90" r="1.18" fill="#1d3a78" /><circle cx="107.60" cy="259.50" r="1.18" fill="#1d3a78" /><circle cx="111.30" cy="259.30" r="1.18" fill="#1d3a78" /><circle cx="115.00" cy="258.60" r="1.18" fill="#1d3a78" /><circle cx="118.60" cy="257.70" r="1.18" fill="#1d3a78" /><circle cx="122.40" cy="257.20" r="1.18" fill="#1d3a78" /><circle cx="87.00" cy="261.30" r="1.18" fill="#1d3a78" /><circle cx="90.90" cy="262.20" r="1.18" fill="#1d3a78" /><circle cx="94.60" cy="262.50" r="1.18" fill="#1d3a78" /><circle cx="98.20" cy="263.20" r="1.18" fill="#1d3a78" /><circle cx="100.20" cy="264.40" r="1.18" fill="#1d3a78" /><circle cx="103.90" cy="264.00" r="1.18" fill="#1d3a78" /><circle cx="107.60" cy="265.50" r="1.18" fill="#1d3a78" /><circle cx="109.40" cy="263.00" r="1.18" fill="#1d3a78" /><circle cx="113.00" cy="262.40" r="1.18" fill="#1d3a78" /><circle cx="116.80" cy="261.70" r="1.18" fill="#1d3a78" /><circle cx="120.60" cy="260.70" r="1.18" fill="#1d3a78" /><circle cx="103.90" cy="267.70" r="1.18" fill="#1d3a78" /><line x1="104.00" y1="211.00" x2="104.00" y2="240.70" stroke="#e6a23e" stroke-width="1.1" /><line x1="91.00" y1="211.00" x2="117.20" y2="211.00" stroke="#e6a23e" stroke-width="1.1" /><line x1="91.00" y1="240.70" x2="117.20" y2="240.70" stroke="#e6a23e" stroke-width="1.1" /><text x="157.40" y="177.00" font-size="9.8" fill="#a0102e" textLength="5.00" lengthAdjust="spacingAndGlyphs" font-weight="bold" stroke="#a0102e" stroke-width="0.3">i.</text><text x="182.30" y="187.70" font-size="9.9" fill="#231f20" stroke="#231f20" stroke-width="0.2" textLength="118.00" lengthAdjust="spacingAndGlyphs" >Top 50 drugs that kill DTPs</text><path d="M200.30,250.50 L200.30,212.10 A38.4,38.4 0 1 1 181.80,284.15 Z" fill="#a8002a" stroke="#a8002a" stroke-width="0.3"/><path d="M200.30,250.50 L181.80,284.15 A38.4,38.4 0 0 1 165.55,266.85 Z" fill="#2a4a80" stroke="#2a4a80" stroke-width="0.3"/><path d="M200.30,250.50 L165.55,266.85 A38.4,38.4 0 0 1 162.58,243.30 Z" fill="#6aaee0" stroke="#6aaee0" stroke-width="0.3"/><path d="M200.30,250.50 L162.58,243.30 A38.4,38.4 0 0 1 167.88,229.92 Z" fill="#3a6a4a" stroke="#3a6a4a" stroke-width="0.3"/><path d="M200.30,250.50 L167.88,229.92 A38.4,38.4 0 0 1 174.01,222.51 Z" fill="#66aa3c" stroke="#66aa3c" stroke-width="0.3"/><path d="M200.30,250.50 L174.01,222.51 A38.4,38.4 0 0 1 181.80,216.85 Z" fill="#b4c08a" stroke="#b4c08a" stroke-width="0.3"/><path d="M200.30,250.50 L181.80,216.85 A38.4,38.4 0 0 1 186.16,214.80 Z" fill="#4a5878" stroke="#4a5878" stroke-width="0.3"/><path d="M200.30,250.50 L186.16,214.80 A38.4,38.4 0 0 1 190.75,213.31 Z" fill="#e89218" stroke="#e89218" stroke-width="0.3"/><path d="M200.30,250.50 L190.75,213.31 A38.4,38.4 0 0 1 195.49,212.40 Z" fill="#4a2070" stroke="#4a2070" stroke-width="0.3"/><path d="M200.30,250.50 L195.49,212.40 A38.4,38.4 0 0 1 200.30,212.10 Z" fill="#b8742a" stroke="#b8742a" stroke-width="0.3"/><rect x="244.30" y="194.50" width="5.70" height="5.70" fill="#a8002a" /><text x="253.30" y="200.20" font-size="8.4" fill="#231f20" stroke="#231f20" stroke-width="0.2" textLength="64.30" lengthAdjust="spacingAndGlyphs" >Anti-inflammatory</text><rect x="244.30" y="206.30" width="5.70" height="5.70" fill="#2a4a80" /><text x="253.30" y="212.00" font-size="8.4" fill="#231f20" stroke="#231f20" stroke-width="0.2" textLength="54.50" lengthAdjust="spacingAndGlyphs" >Anti-neoplastic</text><rect x="244.30" y="218.10" width="5.70" height="5.70" fill="#6aaee0" /><text x="253.30" y="223.80" font-size="8.4" fill="#231f20" stroke="#231f20" stroke-width="0.2" textLength="51.50" lengthAdjust="spacingAndGlyphs" >Anti-psychotic</text><rect x="244.30" y="229.90" width="5.70" height="5.70" fill="#3a6a4a" /><text x="253.30" y="235.60" font-size="8.4" fill="#231f20" stroke="#231f20" stroke-width="0.2" textLength="41.50" lengthAdjust="spacingAndGlyphs" >Anti-emetic</text><rect x="244.30" y="241.70" width="5.70" height="5.70" fill="#66aa3c" /><text x="253.30" y="247.40" font-size="8.4" fill="#231f20" stroke="#231f20" stroke-width="0.2" textLength="42.50" lengthAdjust="spacingAndGlyphs" >Anti-anemic</text><rect x="244.30" y="253.50" width="5.70" height="5.70" fill="#a8c088" /><text x="253.30" y="259.20" font-size="8.4" fill="#231f20" stroke="#231f20" stroke-width="0.2" textLength="53.50" lengthAdjust="spacingAndGlyphs" >Anti-coagulent</text><rect x="244.30" y="265.30" width="5.70" height="5.70" fill="#4a5570" /><text x="253.30" y="271.00" font-size="8.4" fill="#231f20" stroke="#231f20" stroke-width="0.2" textLength="39.50" lengthAdjust="spacingAndGlyphs" >Anti-fungal</text><rect x="244.30" y="277.10" width="5.70" height="5.70" fill="#e8901a" /><text x="253.30" y="282.80" font-size="8.4" fill="#231f20" stroke="#231f20" stroke-width="0.2" textLength="51.80" lengthAdjust="spacingAndGlyphs" >Anti-histamine</text><rect x="244.30" y="288.90" width="5.70" height="5.70" fill="#4a2068" /><text x="253.30" y="294.60" font-size="8.4" fill="#231f20" stroke="#231f20" stroke-width="0.2" textLength="44.50" lengthAdjust="spacingAndGlyphs" >Anti-platelet</text><rect x="244.30" y="300.70" width="5.70" height="5.70" fill="#a8601a" /><text x="253.30" y="306.40" font-size="8.4" fill="#231f20" stroke="#231f20" stroke-width="0.2" textLength="48.30" lengthAdjust="spacingAndGlyphs" >Anti-bacterial</text><text x="332.60" y="177.00" font-size="9.8" fill="#a0102e" textLength="7.80" lengthAdjust="spacingAndGlyphs" font-weight="bold" stroke="#a0102e" stroke-width="0.3">ii.</text><text x="342.60" y="187.70" font-size="9.9" fill="#231f20" stroke="#231f20" stroke-width="0.2" textLength="151.30" lengthAdjust="spacingAndGlyphs" >Top 50 drugs that kill parental cells</text><path d="M378.00,250.50 L378.00,212.30 A38.2,38.2 0 1 1 373.21,288.40 Z" fill="#2d4a7e" stroke="#2d4a7e" stroke-width="0.3"/><path d="M378.00,250.50 L373.21,288.40 A38.2,38.2 0 0 1 355.55,281.40 Z" fill="#a50a2a" stroke="#a50a2a" stroke-width="0.3"/><path d="M378.00,250.50 L355.55,281.40 A38.2,38.2 0 0 1 339.88,252.90 Z" fill="#6aa53a" stroke="#6aa53a" stroke-width="0.3"/><path d="M378.00,250.50 L339.88,252.90 A38.2,38.2 0 0 1 340.48,243.34 Z" fill="#4a1f6a" stroke="#4a1f6a" stroke-width="0.3"/><path d="M378.00,250.50 L340.48,243.34 A38.2,38.2 0 0 1 343.44,234.24 Z" fill="#f0c020" stroke="#f0c020" stroke-width="0.3"/><path d="M378.00,250.50 L343.44,234.24 A38.2,38.2 0 0 1 355.55,219.60 Z" fill="#a86a25" stroke="#a86a25" stroke-width="0.3"/><path d="M378.00,250.50 L355.55,219.60 A38.2,38.2 0 0 1 359.60,217.03 Z" fill="#e0901a" stroke="#e0901a" stroke-width="0.3"/><path d="M378.00,250.50 L359.60,217.03 A38.2,38.2 0 0 1 363.94,214.98 Z" fill="#9a90c8" stroke="#9a90c8" stroke-width="0.3"/><path d="M378.00,250.50 L363.94,214.98 A38.2,38.2 0 0 1 368.50,213.50 Z" fill="#6ab0e8" stroke="#6ab0e8" stroke-width="0.3"/><path d="M378.00,250.50 L368.50,213.50 A38.2,38.2 0 0 1 373.21,212.60 Z" fill="#5a3a1a" stroke="#5a3a1a" stroke-width="0.3"/><path d="M378.00,250.50 L373.21,212.60 A38.2,38.2 0 0 1 378.00,212.30 Z" fill="#3a6a50" stroke="#3a6a50" stroke-width="0.3"/><rect x="421.80" y="194.60" width="5.70" height="5.70" fill="#2d4a7e" /><text x="431.00" y="200.30" font-size="8.4" fill="#231f20" stroke="#231f20" stroke-width="0.2" textLength="54.50" lengthAdjust="spacingAndGlyphs" >Anti-neoplastic</text><rect x="421.80" y="206.40" width="5.70" height="5.70" fill="#a50a2a" /><text x="431.00" y="212.10" font-size="8.4" fill="#231f20" stroke="#231f20" stroke-width="0.2" textLength="64.80" lengthAdjust="spacingAndGlyphs" >Anti-inflammatory</text><rect x="421.80" y="218.20" width="5.70" height="5.70" fill="#6aa53a" /><text x="431.00" y="223.90" font-size="8.4" fill="#231f20" stroke="#231f20" stroke-width="0.2" textLength="54.80" lengthAdjust="spacingAndGlyphs" >Anti-helminthic</text><rect x="421.80" y="230.00" width="5.70" height="5.70" fill="#4a1f6a" /><text x="431.00" y="235.70" font-size="8.4" fill="#231f20" stroke="#231f20" stroke-width="0.2" textLength="62.50" lengthAdjust="spacingAndGlyphs" >Anti-hypertensive</text><rect x="421.80" y="241.80" width="5.70" height="5.70" fill="#f0c020" /><text x="431.00" y="247.50" font-size="8.4" fill="#231f20" stroke="#231f20" stroke-width="0.2" textLength="57.50" lengthAdjust="spacingAndGlyphs" >Anti-depressant</text><rect x="421.80" y="253.60" width="5.70" height="5.70" fill="#a86a25" /><text x="431.00" y="259.30" font-size="8.4" fill="#231f20" stroke="#231f20" stroke-width="0.2" textLength="48.30" lengthAdjust="spacingAndGlyphs" >Anti-bacterial</text><rect x="421.80" y="265.40" width="5.70" height="5.70" fill="#e0901a" /><text x="431.00" y="271.10" font-size="8.4" fill="#231f20" stroke="#231f20" stroke-width="0.2" textLength="35.50" lengthAdjust="spacingAndGlyphs" >Anti-ulcer</text><rect x="421.80" y="277.20" width="5.70" height="5.70" fill="#9a90c8" /><text x="431.00" y="282.90" font-size="8.4" fill="#231f20" stroke="#231f20" stroke-width="0.2" textLength="43.50" lengthAdjust="spacingAndGlyphs" >Anti-anginal</text><rect x="421.80" y="289.00" width="5.70" height="5.70" fill="#6ab0e8" /><text x="431.00" y="294.70" font-size="8.4" fill="#231f20" stroke="#231f20" stroke-width="0.2" textLength="50.50" lengthAdjust="spacingAndGlyphs" >Anti-asthmatic</text><rect x="421.80" y="300.80" width="5.70" height="5.70" fill="#5a3a1a" /><text x="431.00" y="306.50" font-size="8.4" fill="#231f20" stroke="#231f20" stroke-width="0.2" textLength="35.50" lengthAdjust="spacingAndGlyphs" >Analgesic</text>
<defs>
<filter id="b04" x="-50%" y="-50%" width="200%" height="200%"><feGaussianBlur stdDeviation="0.4"/></filter>
<filter id="b06" x="-50%" y="-50%" width="200%" height="200%"><feGaussianBlur stdDeviation="0.6"/></filter>
<filter id="b08" x="-50%" y="-50%" width="200%" height="200%"><feGaussianBlur stdDeviation="0.8"/></filter>
<filter id="b1" x="-50%" y="-50%" width="200%" height="200%"><feGaussianBlur stdDeviation="1.0"/></filter>
<filter id="b15" x="-50%" y="-50%" width="200%" height="200%"><feGaussianBlur stdDeviation="1.5"/></filter>
<filter id="b2" x="-20%" y="-20%" width="140%" height="140%"><feGaussianBlur stdDeviation="2.0"/></filter>
<filter id="b03" x="-20%" y="-20%" width="140%" height="140%"><feGaussianBlur stdDeviation="0.35"/></filter>
</defs><text x="7.00" y="330.20" font-size="12.2" fill="#000" textLength="8.90" lengthAdjust="spacingAndGlyphs" font-weight="bold" >C</text><line x1="37.50" y1="344.50" x2="256.50" y2="344.50" stroke="#333" stroke-width="1.0" /><line x1="270.20" y1="344.60" x2="490.20" y2="344.60" stroke="#333" stroke-width="1.0" /><text x="134.60" y="339.40" font-size="7.9" fill="#231f20" stroke="#231f20" stroke-width="0.2" textLength="24.60" lengthAdjust="spacingAndGlyphs" >DMSO</text><text x="371.50" y="339.40" font-size="7.9" fill="#231f20" stroke="#231f20" stroke-width="0.2" textLength="17.20" lengthAdjust="spacingAndGlyphs" >Quiz</text><text x="51.10" y="354.70" font-size="8.5" fill="#231f20" stroke="#231f20" stroke-width="0.2" textLength="25.20" lengthAdjust="spacingAndGlyphs" >Vehicle</text><text x="114.30" y="354.70" font-size="8.5" fill="#231f20" stroke="#231f20" stroke-width="0.2" textLength="14.60" lengthAdjust="spacingAndGlyphs" >Dex</text><text x="168.80" y="354.70" font-size="8.5" fill="#231f20" stroke="#231f20" stroke-width="0.2" textLength="17.40" lengthAdjust="spacingAndGlyphs" >Pred</text><text x="224.00" y="354.70" font-size="8.5" fill="#231f20" stroke="#231f20" stroke-width="0.2" textLength="19.20" lengthAdjust="spacingAndGlyphs" >Triam</text><text x="281.30" y="354.70" font-size="8.5" fill="#231f20" stroke="#231f20" stroke-width="0.2" textLength="26.80" lengthAdjust="spacingAndGlyphs" >Vehicle</text><text x="346.50" y="354.70" font-size="8.5" fill="#231f20" stroke="#231f20" stroke-width="0.2" textLength="14.60" lengthAdjust="spacingAndGlyphs" >Dex</text><text x="399.60" y="354.70" font-size="8.5" fill="#231f20" stroke="#231f20" stroke-width="0.2" textLength="17.40" lengthAdjust="spacingAndGlyphs" >Pred</text><text x="456.80" y="354.70" font-size="8.5" fill="#231f20" stroke="#231f20" stroke-width="0.2" textLength="20.00" lengthAdjust="spacingAndGlyphs" >Triam</text><g><path d="M40.50,413.50 C40.75,412.42 41.25,410.25 42.00,409.00 C42.75,407.75 44.00,406.67 45.00,406.00 C46.00,405.33 46.83,404.97 48.00,405.00 C49.17,405.03 50.67,406.07 52.00,406.20 C53.33,406.33 54.83,406.25 56.00,405.80 C57.17,405.35 58.00,404.63 59.00,403.50 C60.00,402.37 61.33,400.42 62.00,399.00 C62.67,397.58 62.92,396.17 63.00,395.00 C63.08,393.83 63.00,393.00 62.50,392.00 C62.00,391.00 60.25,389.75 60.00,389.00 C59.75,388.25 60.17,388.00 61.00,387.50 C61.83,387.00 63.67,386.67 65.00,386.00 C66.33,385.33 67.75,384.03 69.00,383.50 C70.25,382.97 71.42,382.72 72.50,382.80 C73.58,382.88 74.88,383.13 75.50,384.00 C76.12,384.87 76.20,386.67 76.20,388.00 C76.20,389.33 75.62,390.67 75.50,392.00 C75.38,393.33 75.25,394.67 75.50,396.00 C75.75,397.33 76.75,398.67 77.00,400.00 C77.25,401.33 77.25,402.83 77.00,404.00 C76.75,405.17 76.50,406.30 75.50,407.00 C74.50,407.70 72.75,407.78 71.00,408.20 C69.25,408.62 67.17,409.03 65.00,409.50 C62.83,409.97 60.17,410.50 58.00,411.00 C55.83,411.50 53.67,411.92 52.00,412.50 C50.33,413.08 49.50,414.00 48.00,414.50 C46.50,415.00 44.25,415.33 43.00,415.50 C41.75,415.67 40.92,415.83 40.50,415.50 C40.08,415.17 40.25,414.58 40.50,413.50 Z" fill="#1f3ff2" filter="url(#b03)"/><clipPath id="cp0"><path d="M40.50,413.50 C40.75,412.42 41.25,410.25 42.00,409.00 C42.75,407.75 44.00,406.67 45.00,406.00 C46.00,405.33 46.83,404.97 48.00,405.00 C49.17,405.03 50.67,406.07 52.00,406.20 C53.33,406.33 54.83,406.25 56.00,405.80 C57.17,405.35 58.00,404.63 59.00,403.50 C60.00,402.37 61.33,400.42 62.00,399.00 C62.67,397.58 62.92,396.17 63.00,395.00 C63.08,393.83 63.00,393.00 62.50,392.00 C62.00,391.00 60.25,389.75 60.00,389.00 C59.75,388.25 60.17,388.00 61.00,387.50 C61.83,387.00 63.67,386.67 65.00,386.00 C66.33,385.33 67.75,384.03 69.00,383.50 C70.25,382.97 71.42,382.72 72.50,382.80 C73.58,382.88 74.88,383.13 75.50,384.00 C76.12,384.87 76.20,386.67 76.20,388.00 C76.20,389.33 75.62,390.67 75.50,392.00 C75.38,393.33 75.25,394.67 75.50,396.00 C75.75,397.33 76.75,398.67 77.00,400.00 C77.25,401.33 77.25,402.83 77.00,404.00 C76.75,405.17 76.50,406.30 75.50,407.00 C74.50,407.70 72.75,407.78 71.00,408.20 C69.25,408.62 67.17,409.03 65.00,409.50 C62.83,409.97 60.17,410.50 58.00,411.00 C55.83,411.50 53.67,411.92 52.00,412.50 C50.33,413.08 49.50,414.00 48.00,414.50 C46.50,415.00 44.25,415.33 43.00,415.50 C41.75,415.67 40.92,415.83 40.50,415.50 C40.08,415.17 40.25,414.58 40.50,413.50 Z"/></clipPath><g clip-path="url(#cp0)"><path d="M40.50,413.50 C40.75,412.42 41.25,410.25 42.00,409.00 C42.75,407.75 44.00,406.67 45.00,406.00 C46.00,405.33 46.83,404.97 48.00,405.00 C49.17,405.03 50.67,406.07 52.00,406.20 C53.33,406.33 54.83,406.25 56.00,405.80 C57.17,405.35 58.00,404.63 59.00,403.50 C60.00,402.37 61.33,400.42 62.00,399.00 C62.67,397.58 62.92,396.17 63.00,395.00 C63.08,393.83 63.00,393.00 62.50,392.00 C62.00,391.00 60.25,389.75 60.00,389.00 C59.75,388.25 60.17,388.00 61.00,387.50 C61.83,387.00 63.67,386.67 65.00,386.00 C66.33,385.33 67.75,384.03 69.00,383.50 C70.25,382.97 71.42,382.72 72.50,382.80 C73.58,382.88 74.88,383.13 75.50,384.00 C76.12,384.87 76.20,386.67 76.20,388.00 C76.20,389.33 75.62,390.67 75.50,392.00 C75.38,393.33 75.25,394.67 75.50,396.00 C75.75,397.33 76.75,398.67 77.00,400.00 C77.25,401.33 77.25,402.83 77.00,404.00 C76.75,405.17 76.50,406.30 75.50,407.00 C74.50,407.70 72.75,407.78 71.00,408.20 C69.25,408.62 67.17,409.03 65.00,409.50 C62.83,409.97 60.17,410.50 58.00,411.00 C55.83,411.50 53.67,411.92 52.00,412.50 C50.33,413.08 49.50,414.00 48.00,414.50 C46.50,415.00 44.25,415.33 43.00,415.50 C41.75,415.67 40.92,415.83 40.50,415.50 C40.08,415.17 40.25,414.58 40.50,413.50 Z" fill="#3a78f4" filter="url(#b2)"/><ellipse cx="70" cy="395" rx="4.5" ry="9" fill="#2a5cf5" filter="url(#b15)" opacity="1"/><ellipse cx="71" cy="388" rx="3.2" ry="2.6" fill="#55aaf8" filter="url(#b1)" opacity="1"/><ellipse cx="71" cy="401.5" rx="3.2" ry="3" fill="#4a9cf6" filter="url(#b1)" opacity="1"/></g><ellipse cx="46.6" cy="409.59999999999997" rx="5.6" ry="3.9" fill="#1f3ff2" filter="url(#b03)" opacity="1" transform="rotate(-32 46.6 409.59999999999997)"/><ellipse cx="46.4" cy="409.2" rx="4.3" ry="3.0" fill="#64e4f2" filter="url(#b06)" opacity="1" transform="rotate(-32 46.4 409.2)"/><ellipse cx="46.4" cy="409.2" rx="2.3" ry="2.6" fill="#9cf05a" filter="url(#b06)" opacity="1"/><ellipse cx="46.4" cy="409.2" rx="1.2" ry="1.4" fill="#f0f028" filter="url(#b04)" opacity="1"/><ellipse cx="46.4" cy="409.2" rx="0.8" ry="0.8" fill="#e82010" filter="url(#b04)" opacity="1"/></g><line x1="51.70" y1="360.60" x2="51.70" y2="416.60" stroke="#707070" stroke-width="1.05" /><line x1="37.80" y1="397.10" x2="87.20" y2="397.10" stroke="#707070" stroke-width="1.05" /><rect x="37.80" y="360.60" width="49.40" height="56.00" fill="none" stroke="#474747" stroke-width="1.2" rx="0.7"/><rect x="39.40" y="399.20" width="12.20" height="15.50" fill="none" stroke="#2a2a2a" stroke-width="1.05" stroke-dasharray="2.1 1.5" rx="0.8"/><rect x="53.20" y="378.80" width="31.60" height="36.50" fill="none" stroke="#d83838" stroke-width="1.0" stroke-dasharray="2.7 1.6" rx="1"/><text x="37.70" y="425.30" font-size="8.4" fill="#231f20" stroke="#231f20" stroke-width="0.2" textLength="21.80" lengthAdjust="spacingAndGlyphs" >83.7%</text><text x="87.40" y="425.30" font-size="8.4" fill="#c92a2e" stroke="#c92a2e" stroke-width="0.2" textLength="21.40" lengthAdjust="spacingAndGlyphs" text-anchor="end" >16.3%</text><g><path d="M97.50,414.00 C97.75,412.83 98.25,410.33 99.00,409.00 C99.75,407.67 101.00,406.67 102.00,406.00 C103.00,405.33 104.00,405.08 105.00,405.00 C106.00,404.92 107.17,406.17 108.00,405.50 C108.83,404.83 109.50,402.75 110.00,401.00 C110.50,399.25 110.50,396.67 111.00,395.00 C111.50,393.33 112.00,392.33 113.00,391.00 C114.00,389.67 115.67,388.08 117.00,387.00 C118.33,385.92 119.50,385.13 121.00,384.50 C122.50,383.87 124.50,383.37 126.00,383.20 C127.50,383.03 128.92,383.03 130.00,383.50 C131.08,383.97 132.08,384.58 132.50,386.00 C132.92,387.42 132.67,390.33 132.50,392.00 C132.33,393.67 131.42,394.67 131.50,396.00 C131.58,397.33 132.75,398.50 133.00,400.00 C133.25,401.50 133.33,403.58 133.00,405.00 C132.67,406.42 132.33,407.67 131.00,408.50 C129.67,409.33 127.17,409.58 125.00,410.00 C122.83,410.42 120.17,410.58 118.00,411.00 C115.83,411.42 113.83,411.92 112.00,412.50 C110.17,413.08 108.83,413.92 107.00,414.50 C105.17,415.08 102.58,415.75 101.00,416.00 C99.42,416.25 98.08,416.33 97.50,416.00 C96.92,415.67 97.25,415.17 97.50,414.00 Z" fill="#1f3ff2" filter="url(#b03)"/><clipPath id="cp1"><path d="M97.50,414.00 C97.75,412.83 98.25,410.33 99.00,409.00 C99.75,407.67 101.00,406.67 102.00,406.00 C103.00,405.33 104.00,405.08 105.00,405.00 C106.00,404.92 107.17,406.17 108.00,405.50 C108.83,404.83 109.50,402.75 110.00,401.00 C110.50,399.25 110.50,396.67 111.00,395.00 C111.50,393.33 112.00,392.33 113.00,391.00 C114.00,389.67 115.67,388.08 117.00,387.00 C118.33,385.92 119.50,385.13 121.00,384.50 C122.50,383.87 124.50,383.37 126.00,383.20 C127.50,383.03 128.92,383.03 130.00,383.50 C131.08,383.97 132.08,384.58 132.50,386.00 C132.92,387.42 132.67,390.33 132.50,392.00 C132.33,393.67 131.42,394.67 131.50,396.00 C131.58,397.33 132.75,398.50 133.00,400.00 C133.25,401.50 133.33,403.58 133.00,405.00 C132.67,406.42 132.33,407.67 131.00,408.50 C129.67,409.33 127.17,409.58 125.00,410.00 C122.83,410.42 120.17,410.58 118.00,411.00 C115.83,411.42 113.83,411.92 112.00,412.50 C110.17,413.08 108.83,413.92 107.00,414.50 C105.17,415.08 102.58,415.75 101.00,416.00 C99.42,416.25 98.08,416.33 97.50,416.00 C96.92,415.67 97.25,415.17 97.50,414.00 Z"/></clipPath><g clip-path="url(#cp1)"><path d="M97.50,414.00 C97.75,412.83 98.25,410.33 99.00,409.00 C99.75,407.67 101.00,406.67 102.00,406.00 C103.00,405.33 104.00,405.08 105.00,405.00 C106.00,404.92 107.17,406.17 108.00,405.50 C108.83,404.83 109.50,402.75 110.00,401.00 C110.50,399.25 110.50,396.67 111.00,395.00 C111.50,393.33 112.00,392.33 113.00,391.00 C114.00,389.67 115.67,388.08 117.00,387.00 C118.33,385.92 119.50,385.13 121.00,384.50 C122.50,383.87 124.50,383.37 126.00,383.20 C127.50,383.03 128.92,383.03 130.00,383.50 C131.08,383.97 132.08,384.58 132.50,386.00 C132.92,387.42 132.67,390.33 132.50,392.00 C132.33,393.67 131.42,394.67 131.50,396.00 C131.58,397.33 132.75,398.50 133.00,400.00 C133.25,401.50 133.33,403.58 133.00,405.00 C132.67,406.42 132.33,407.67 131.00,408.50 C129.67,409.33 127.17,409.58 125.00,410.00 C122.83,410.42 120.17,410.58 118.00,411.00 C115.83,411.42 113.83,411.92 112.00,412.50 C110.17,413.08 108.83,413.92 107.00,414.50 C105.17,415.08 102.58,415.75 101.00,416.00 C99.42,416.25 98.08,416.33 97.50,416.00 C96.92,415.67 97.25,415.17 97.50,414.00 Z" fill="#3a78f4" filter="url(#b2)"/><ellipse cx="123" cy="397" rx="7" ry="9" fill="#2a5cf5" filter="url(#b15)" opacity="1"/><ellipse cx="127.5" cy="388.5" rx="3.4" ry="2.9" fill="#60c0fa" filter="url(#b1)" opacity="1"/><ellipse cx="127.5" cy="402" rx="3.2" ry="2.8" fill="#50aaf8" filter="url(#b1)" opacity="1"/></g><ellipse cx="113.8" cy="397.3" rx="0.9" ry="0.9" fill="#fff" filter="url(#b04)" opacity="1"/><ellipse cx="103.60000000000001" cy="409.59999999999997" rx="5.6" ry="3.9" fill="#1f3ff2" filter="url(#b03)" opacity="1" transform="rotate(-32 103.60000000000001 409.59999999999997)"/><ellipse cx="103.4" cy="409.2" rx="4.3" ry="3.0" fill="#64e4f2" filter="url(#b06)" opacity="1" transform="rotate(-32 103.4 409.2)"/><ellipse cx="103.4" cy="409.2" rx="2.3" ry="2.6" fill="#9cf05a" filter="url(#b06)" opacity="1"/><ellipse cx="103.4" cy="409.2" rx="1.2" ry="1.4" fill="#f0f028" filter="url(#b04)" opacity="1"/><ellipse cx="103.4" cy="409.2" rx="0.8" ry="0.8" fill="#e82010" filter="url(#b04)" opacity="1"/></g><line x1="108.50" y1="360.60" x2="108.50" y2="416.60" stroke="#707070" stroke-width="1.05" /><line x1="94.60" y1="397.10" x2="144.00" y2="397.10" stroke="#707070" stroke-width="1.05" /><rect x="94.60" y="360.60" width="49.40" height="56.00" fill="none" stroke="#474747" stroke-width="1.2" rx="0.7"/><rect x="96.20" y="399.20" width="12.20" height="15.50" fill="none" stroke="#2a2a2a" stroke-width="1.05" stroke-dasharray="2.1 1.5" rx="0.8"/><rect x="110.00" y="378.80" width="31.60" height="36.50" fill="none" stroke="#d83838" stroke-width="1.0" stroke-dasharray="2.7 1.6" rx="1"/><text x="94.50" y="425.30" font-size="8.4" fill="#231f20" stroke="#231f20" stroke-width="0.2" textLength="21.80" lengthAdjust="spacingAndGlyphs" >79.0%</text><text x="144.20" y="425.30" font-size="8.4" fill="#c92a2e" stroke="#c92a2e" stroke-width="0.2" textLength="21.40" lengthAdjust="spacingAndGlyphs" text-anchor="end" >20.9%</text><g><path d="M154.50,414.50 C154.75,413.42 155.25,410.50 156.00,409.00 C156.75,407.50 158.00,406.33 159.00,405.50 C160.00,404.67 161.00,404.33 162.00,404.00 C163.00,403.67 164.00,403.33 165.00,403.50 C166.00,403.67 166.83,404.92 168.00,405.00 C169.17,405.08 170.83,404.67 172.00,404.00 C173.17,403.33 174.42,402.17 175.00,401.00 C175.58,399.83 175.67,398.17 175.50,397.00 C175.33,395.83 174.58,395.17 174.00,394.00 C173.42,392.83 171.83,391.00 172.00,390.00 C172.17,389.00 173.67,388.75 175.00,388.00 C176.33,387.25 178.33,386.33 180.00,385.50 C181.67,384.67 183.75,383.50 185.00,383.00 C186.25,382.50 186.75,382.17 187.50,382.50 C188.25,382.83 189.17,383.42 189.50,385.00 C189.83,386.58 189.58,390.00 189.50,392.00 C189.42,394.00 188.83,395.50 189.00,397.00 C189.17,398.50 190.33,399.50 190.50,401.00 C190.67,402.50 190.75,404.75 190.00,406.00 C189.25,407.25 188.00,407.92 186.00,408.50 C184.00,409.08 180.67,409.08 178.00,409.50 C175.33,409.92 172.50,410.42 170.00,411.00 C167.50,411.58 165.00,412.25 163.00,413.00 C161.00,413.75 159.42,415.08 158.00,415.50 C156.58,415.92 155.08,415.67 154.50,415.50 C153.92,415.33 154.25,415.58 154.50,414.50 Z" fill="#1f3ff2" filter="url(#b03)"/><clipPath id="cp2"><path d="M154.50,414.50 C154.75,413.42 155.25,410.50 156.00,409.00 C156.75,407.50 158.00,406.33 159.00,405.50 C160.00,404.67 161.00,404.33 162.00,404.00 C163.00,403.67 164.00,403.33 165.00,403.50 C166.00,403.67 166.83,404.92 168.00,405.00 C169.17,405.08 170.83,404.67 172.00,404.00 C173.17,403.33 174.42,402.17 175.00,401.00 C175.58,399.83 175.67,398.17 175.50,397.00 C175.33,395.83 174.58,395.17 174.00,394.00 C173.42,392.83 171.83,391.00 172.00,390.00 C172.17,389.00 173.67,388.75 175.00,388.00 C176.33,387.25 178.33,386.33 180.00,385.50 C181.67,384.67 183.75,383.50 185.00,383.00 C186.25,382.50 186.75,382.17 187.50,382.50 C188.25,382.83 189.17,383.42 189.50,385.00 C189.83,386.58 189.58,390.00 189.50,392.00 C189.42,394.00 188.83,395.50 189.00,397.00 C189.17,398.50 190.33,399.50 190.50,401.00 C190.67,402.50 190.75,404.75 190.00,406.00 C189.25,407.25 188.00,407.92 186.00,408.50 C184.00,409.08 180.67,409.08 178.00,409.50 C175.33,409.92 172.50,410.42 170.00,411.00 C167.50,411.58 165.00,412.25 163.00,413.00 C161.00,413.75 159.42,415.08 158.00,415.50 C156.58,415.92 155.08,415.67 154.50,415.50 C153.92,415.33 154.25,415.58 154.50,414.50 Z"/></clipPath><g clip-path="url(#cp2)"><path d="M154.50,414.50 C154.75,413.42 155.25,410.50 156.00,409.00 C156.75,407.50 158.00,406.33 159.00,405.50 C160.00,404.67 161.00,404.33 162.00,404.00 C163.00,403.67 164.00,403.33 165.00,403.50 C166.00,403.67 166.83,404.92 168.00,405.00 C169.17,405.08 170.83,404.67 172.00,404.00 C173.17,403.33 174.42,402.17 175.00,401.00 C175.58,399.83 175.67,398.17 175.50,397.00 C175.33,395.83 174.58,395.17 174.00,394.00 C173.42,392.83 171.83,391.00 172.00,390.00 C172.17,389.00 173.67,388.75 175.00,388.00 C176.33,387.25 178.33,386.33 180.00,385.50 C181.67,384.67 183.75,383.50 185.00,383.00 C186.25,382.50 186.75,382.17 187.50,382.50 C188.25,382.83 189.17,383.42 189.50,385.00 C189.83,386.58 189.58,390.00 189.50,392.00 C189.42,394.00 188.83,395.50 189.00,397.00 C189.17,398.50 190.33,399.50 190.50,401.00 C190.67,402.50 190.75,404.75 190.00,406.00 C189.25,407.25 188.00,407.92 186.00,408.50 C184.00,409.08 180.67,409.08 178.00,409.50 C175.33,409.92 172.50,410.42 170.00,411.00 C167.50,411.58 165.00,412.25 163.00,413.00 C161.00,413.75 159.42,415.08 158.00,415.50 C156.58,415.92 155.08,415.67 154.50,415.50 C153.92,415.33 154.25,415.58 154.50,414.50 Z" fill="#3a78f4" filter="url(#b2)"/><ellipse cx="183" cy="396" rx="4.5" ry="9" fill="#2a5cf5" filter="url(#b15)" opacity="1"/><ellipse cx="184.5" cy="389" rx="3" ry="2.6" fill="#58b4f8" filter="url(#b1)" opacity="1"/><ellipse cx="185" cy="402" rx="3" ry="2.5" fill="#4aa0f6" filter="url(#b1)" opacity="1"/></g><ellipse cx="160.6" cy="409.59999999999997" rx="5.6" ry="3.9" fill="#1f3ff2" filter="url(#b03)" opacity="1" transform="rotate(-32 160.6 409.59999999999997)"/><ellipse cx="160.4" cy="409.2" rx="4.3" ry="3.0" fill="#64e4f2" filter="url(#b06)" opacity="1" transform="rotate(-32 160.4 409.2)"/><ellipse cx="160.4" cy="409.2" rx="2.3" ry="2.6" fill="#9cf05a" filter="url(#b06)" opacity="1"/><ellipse cx="160.4" cy="409.2" rx="1.2" ry="1.4" fill="#f0f028" filter="url(#b04)" opacity="1"/><ellipse cx="160.4" cy="409.2" rx="0.8" ry="0.8" fill="#e82010" filter="url(#b04)" opacity="1"/></g><line x1="165.50" y1="360.60" x2="165.50" y2="416.60" stroke="#707070" stroke-width="1.05" /><line x1="151.60" y1="397.10" x2="201.00" y2="397.10" stroke="#707070" stroke-width="1.05" /><rect x="151.60" y="360.60" width="49.40" height="56.00" fill="none" stroke="#474747" stroke-width="1.2" rx="0.7"/><rect x="153.20" y="399.20" width="12.20" height="15.50" fill="none" stroke="#2a2a2a" stroke-width="1.05" stroke-dasharray="2.1 1.5" rx="0.8"/><rect x="167.00" y="378.80" width="31.60" height="36.50" fill="none" stroke="#d83838" stroke-width="1.0" stroke-dasharray="2.7 1.6" rx="1"/><text x="151.50" y="425.30" font-size="8.4" fill="#231f20" stroke="#231f20" stroke-width="0.2" textLength="21.80" lengthAdjust="spacingAndGlyphs" >80.1%</text><text x="201.20" y="425.30" font-size="8.4" fill="#c92a2e" stroke="#c92a2e" stroke-width="0.2" textLength="21.40" lengthAdjust="spacingAndGlyphs" text-anchor="end" >19.8%</text><g><path d="M211.50,414.50 C211.75,413.42 212.25,410.50 213.00,409.00 C213.75,407.50 215.00,406.50 216.00,405.50 C217.00,404.50 218.00,403.92 219.00,403.00 C220.00,402.08 221.33,401.17 222.00,400.00 C222.67,398.83 222.67,397.33 223.00,396.00 C223.33,394.67 223.33,393.25 224.00,392.00 C224.67,390.75 225.67,389.50 227.00,388.50 C228.33,387.50 230.17,386.75 232.00,386.00 C233.83,385.25 236.17,384.58 238.00,384.00 C239.83,383.42 241.67,382.58 243.00,382.50 C244.33,382.42 245.33,382.58 246.00,383.50 C246.67,384.42 246.92,386.25 247.00,388.00 C247.08,389.75 246.50,392.00 246.50,394.00 C246.50,396.00 247.00,398.17 247.00,400.00 C247.00,401.83 247.17,403.75 246.50,405.00 C245.83,406.25 244.75,406.83 243.00,407.50 C241.25,408.17 238.50,408.50 236.00,409.00 C233.50,409.50 230.50,409.92 228.00,410.50 C225.50,411.08 223.17,411.67 221.00,412.50 C218.83,413.33 216.58,415.00 215.00,415.50 C213.42,416.00 212.08,415.67 211.50,415.50 C210.92,415.33 211.25,415.58 211.50,414.50 Z" fill="#1f3ff2" filter="url(#b03)"/><clipPath id="cp3"><path d="M211.50,414.50 C211.75,413.42 212.25,410.50 213.00,409.00 C213.75,407.50 215.00,406.50 216.00,405.50 C217.00,404.50 218.00,403.92 219.00,403.00 C220.00,402.08 221.33,401.17 222.00,400.00 C222.67,398.83 222.67,397.33 223.00,396.00 C223.33,394.67 223.33,393.25 224.00,392.00 C224.67,390.75 225.67,389.50 227.00,388.50 C228.33,387.50 230.17,386.75 232.00,386.00 C233.83,385.25 236.17,384.58 238.00,384.00 C239.83,383.42 241.67,382.58 243.00,382.50 C244.33,382.42 245.33,382.58 246.00,383.50 C246.67,384.42 246.92,386.25 247.00,388.00 C247.08,389.75 246.50,392.00 246.50,394.00 C246.50,396.00 247.00,398.17 247.00,400.00 C247.00,401.83 247.17,403.75 246.50,405.00 C245.83,406.25 244.75,406.83 243.00,407.50 C241.25,408.17 238.50,408.50 236.00,409.00 C233.50,409.50 230.50,409.92 228.00,410.50 C225.50,411.08 223.17,411.67 221.00,412.50 C218.83,413.33 216.58,415.00 215.00,415.50 C213.42,416.00 212.08,415.67 211.50,415.50 C210.92,415.33 211.25,415.58 211.50,414.50 Z"/></clipPath><g clip-path="url(#cp3)"><path d="M211.50,414.50 C211.75,413.42 212.25,410.50 213.00,409.00 C213.75,407.50 215.00,406.50 216.00,405.50 C217.00,404.50 218.00,403.92 219.00,403.00 C220.00,402.08 221.33,401.17 222.00,400.00 C222.67,398.83 222.67,397.33 223.00,396.00 C223.33,394.67 223.33,393.25 224.00,392.00 C224.67,390.75 225.67,389.50 227.00,388.50 C228.33,387.50 230.17,386.75 232.00,386.00 C233.83,385.25 236.17,384.58 238.00,384.00 C239.83,383.42 241.67,382.58 243.00,382.50 C244.33,382.42 245.33,382.58 246.00,383.50 C246.67,384.42 246.92,386.25 247.00,388.00 C247.08,389.75 246.50,392.00 246.50,394.00 C246.50,396.00 247.00,398.17 247.00,400.00 C247.00,401.83 247.17,403.75 246.50,405.00 C245.83,406.25 244.75,406.83 243.00,407.50 C241.25,408.17 238.50,408.50 236.00,409.00 C233.50,409.50 230.50,409.92 228.00,410.50 C225.50,411.08 223.17,411.67 221.00,412.50 C218.83,413.33 216.58,415.00 215.00,415.50 C213.42,416.00 212.08,415.67 211.50,415.50 C210.92,415.33 211.25,415.58 211.50,414.50 Z" fill="#3a78f4" filter="url(#b2)"/><ellipse cx="239" cy="396" rx="6" ry="9" fill="#2a5cf5" filter="url(#b15)" opacity="1"/><ellipse cx="239" cy="390" rx="4" ry="3" fill="#3a8cf6" filter="url(#b1)" opacity="1"/><ellipse cx="239" cy="402" rx="4" ry="3" fill="#3a8cf6" filter="url(#b1)" opacity="1"/></g><ellipse cx="228.8" cy="394.8" rx="1.4" ry="1.9" fill="#fff" filter="url(#b04)" opacity="1"/><ellipse cx="228.2" cy="401.3" rx="1.7" ry="2.2" fill="#fff" filter="url(#b04)" opacity="1"/><ellipse cx="217.6" cy="409.59999999999997" rx="5.6" ry="3.9" fill="#1f3ff2" filter="url(#b03)" opacity="1" transform="rotate(-32 217.6 409.59999999999997)"/><ellipse cx="217.4" cy="409.2" rx="4.3" ry="3.0" fill="#64e4f2" filter="url(#b06)" opacity="1" transform="rotate(-32 217.4 409.2)"/><ellipse cx="217.4" cy="409.2" rx="2.3" ry="2.6" fill="#9cf05a" filter="url(#b06)" opacity="1"/><ellipse cx="217.4" cy="409.2" rx="1.2" ry="1.4" fill="#f0f028" filter="url(#b04)" opacity="1"/><ellipse cx="217.4" cy="409.2" rx="0.8" ry="0.8" fill="#e82010" filter="url(#b04)" opacity="1"/></g><line x1="222.50" y1="360.60" x2="222.50" y2="416.60" stroke="#707070" stroke-width="1.05" /><line x1="208.60" y1="397.10" x2="258.00" y2="397.10" stroke="#707070" stroke-width="1.05" /><rect x="208.60" y="360.60" width="49.40" height="56.00" fill="none" stroke="#474747" stroke-width="1.2" rx="0.7"/><rect x="210.20" y="399.20" width="12.20" height="15.50" fill="none" stroke="#2a2a2a" stroke-width="1.05" stroke-dasharray="2.1 1.5" rx="0.8"/><rect x="224.00" y="378.80" width="31.60" height="36.50" fill="none" stroke="#d83838" stroke-width="1.0" stroke-dasharray="2.7 1.6" rx="1"/><text x="208.50" y="425.30" font-size="8.4" fill="#231f20" stroke="#231f20" stroke-width="0.2" textLength="21.80" lengthAdjust="spacingAndGlyphs" >82.2%</text><text x="258.20" y="425.30" font-size="8.4" fill="#c92a2e" stroke="#c92a2e" stroke-width="0.2" textLength="21.40" lengthAdjust="spacingAndGlyphs" text-anchor="end" >17.6%</text><g><path d="M273.00,414.00 C272.92,412.92 273.83,410.42 274.50,409.00 C275.17,407.58 276.08,406.33 277.00,405.50 C277.92,404.67 279.00,404.42 280.00,404.00 C281.00,403.58 282.08,403.58 283.00,403.00 C283.92,402.42 284.95,401.25 285.50,400.50 C286.05,399.75 285.72,399.08 286.30,398.50 C286.88,397.92 288.05,397.42 289.00,397.00 C289.95,396.58 291.33,396.50 292.00,396.00 C292.67,395.50 293.17,394.63 293.00,394.00 C292.83,393.37 291.92,392.70 291.00,392.20 C290.08,391.70 288.12,391.45 287.50,391.00 C286.88,390.55 286.92,390.33 287.30,389.50 C287.68,388.67 288.68,386.78 289.80,386.00 C290.92,385.22 292.57,385.17 294.00,384.80 C295.43,384.43 296.65,384.22 298.40,383.80 C300.15,383.38 302.97,382.40 304.50,382.30 C306.03,382.20 306.88,382.25 307.60,383.20 C308.32,384.15 308.63,386.37 308.80,388.00 C308.97,389.63 308.63,391.50 308.60,393.00 C308.57,394.50 308.40,395.60 308.60,397.00 C308.80,398.40 309.97,399.95 309.80,401.40 C309.63,402.85 308.98,404.57 307.60,405.70 C306.22,406.83 304.07,407.65 301.50,408.20 C298.93,408.75 294.78,408.62 292.20,409.00 C289.62,409.38 288.03,409.75 286.00,410.50 C283.97,411.25 281.83,412.67 280.00,413.50 C278.17,414.33 276.17,415.42 275.00,415.50 C273.83,415.58 273.08,415.08 273.00,414.00 Z" fill="#1f3ff2" filter="url(#b03)"/><clipPath id="cp4"><path d="M273.00,414.00 C272.92,412.92 273.83,410.42 274.50,409.00 C275.17,407.58 276.08,406.33 277.00,405.50 C277.92,404.67 279.00,404.42 280.00,404.00 C281.00,403.58 282.08,403.58 283.00,403.00 C283.92,402.42 284.95,401.25 285.50,400.50 C286.05,399.75 285.72,399.08 286.30,398.50 C286.88,397.92 288.05,397.42 289.00,397.00 C289.95,396.58 291.33,396.50 292.00,396.00 C292.67,395.50 293.17,394.63 293.00,394.00 C292.83,393.37 291.92,392.70 291.00,392.20 C290.08,391.70 288.12,391.45 287.50,391.00 C286.88,390.55 286.92,390.33 287.30,389.50 C287.68,388.67 288.68,386.78 289.80,386.00 C290.92,385.22 292.57,385.17 294.00,384.80 C295.43,384.43 296.65,384.22 298.40,383.80 C300.15,383.38 302.97,382.40 304.50,382.30 C306.03,382.20 306.88,382.25 307.60,383.20 C308.32,384.15 308.63,386.37 308.80,388.00 C308.97,389.63 308.63,391.50 308.60,393.00 C308.57,394.50 308.40,395.60 308.60,397.00 C308.80,398.40 309.97,399.95 309.80,401.40 C309.63,402.85 308.98,404.57 307.60,405.70 C306.22,406.83 304.07,407.65 301.50,408.20 C298.93,408.75 294.78,408.62 292.20,409.00 C289.62,409.38 288.03,409.75 286.00,410.50 C283.97,411.25 281.83,412.67 280.00,413.50 C278.17,414.33 276.17,415.42 275.00,415.50 C273.83,415.58 273.08,415.08 273.00,414.00 Z"/></clipPath><g clip-path="url(#cp4)"><path d="M273.00,414.00 C272.92,412.92 273.83,410.42 274.50,409.00 C275.17,407.58 276.08,406.33 277.00,405.50 C277.92,404.67 279.00,404.42 280.00,404.00 C281.00,403.58 282.08,403.58 283.00,403.00 C283.92,402.42 284.95,401.25 285.50,400.50 C286.05,399.75 285.72,399.08 286.30,398.50 C286.88,397.92 288.05,397.42 289.00,397.00 C289.95,396.58 291.33,396.50 292.00,396.00 C292.67,395.50 293.17,394.63 293.00,394.00 C292.83,393.37 291.92,392.70 291.00,392.20 C290.08,391.70 288.12,391.45 287.50,391.00 C286.88,390.55 286.92,390.33 287.30,389.50 C287.68,388.67 288.68,386.78 289.80,386.00 C290.92,385.22 292.57,385.17 294.00,384.80 C295.43,384.43 296.65,384.22 298.40,383.80 C300.15,383.38 302.97,382.40 304.50,382.30 C306.03,382.20 306.88,382.25 307.60,383.20 C308.32,384.15 308.63,386.37 308.80,388.00 C308.97,389.63 308.63,391.50 308.60,393.00 C308.57,394.50 308.40,395.60 308.60,397.00 C308.80,398.40 309.97,399.95 309.80,401.40 C309.63,402.85 308.98,404.57 307.60,405.70 C306.22,406.83 304.07,407.65 301.50,408.20 C298.93,408.75 294.78,408.62 292.20,409.00 C289.62,409.38 288.03,409.75 286.00,410.50 C283.97,411.25 281.83,412.67 280.00,413.50 C278.17,414.33 276.17,415.42 275.00,415.50 C273.83,415.58 273.08,415.08 273.00,414.00 Z" fill="#3a78f4" filter="url(#b2)"/><ellipse cx="301" cy="394" rx="7" ry="9" fill="#3c8cf8" filter="url(#b15)" opacity="1"/><ellipse cx="302" cy="389.5" rx="5.6" ry="4.6" fill="#44d8f0" filter="url(#b1)" opacity="1"/><ellipse cx="302" cy="389.5" rx="4.1" ry="3.3" fill="#8cf050" filter="url(#b06)" opacity="1"/><ellipse cx="304.2" cy="400.8" rx="3.5" ry="3.8" fill="#44d8f0" filter="url(#b1)" opacity="1"/><ellipse cx="304.2" cy="400.8" rx="2.1" ry="2.4" fill="#8cf050" filter="url(#b06)" opacity="1"/></g><ellipse cx="290.7" cy="403.8" rx="1.0" ry="1.0" fill="#fff" filter="url(#b04)" opacity="1"/><ellipse cx="279.4" cy="409.2" rx="4.76" ry="3.315" fill="#1f3ff2" filter="url(#b03)" opacity="1" transform="rotate(-32 279.4 409.2)"/><ellipse cx="279.2" cy="408.8" rx="3.655" ry="2.55" fill="#64e4f2" filter="url(#b06)" opacity="1" transform="rotate(-32 279.2 408.8)"/><ellipse cx="279.2" cy="408.8" rx="1.9549999999999998" ry="2.21" fill="#9cf05a" filter="url(#b06)" opacity="1"/><ellipse cx="279.2" cy="408.8" rx="1.02" ry="1.19" fill="#f0f028" filter="url(#b04)" opacity="1"/><ellipse cx="279.2" cy="408.8" rx="1.2240000000000002" ry="1.2240000000000002" fill="#e82010" filter="url(#b04)" opacity="1"/></g><line x1="284.60" y1="360.60" x2="284.60" y2="416.60" stroke="#707070" stroke-width="1.05" /><line x1="270.70" y1="397.10" x2="320.10" y2="397.10" stroke="#707070" stroke-width="1.05" /><rect x="270.70" y="360.60" width="49.40" height="56.00" fill="none" stroke="#474747" stroke-width="1.2" rx="0.7"/><rect x="272.30" y="399.20" width="12.20" height="15.50" fill="none" stroke="#2a2a2a" stroke-width="1.05" stroke-dasharray="2.1 1.5" rx="0.8"/><rect x="286.10" y="378.80" width="31.60" height="36.50" fill="none" stroke="#d83838" stroke-width="1.0" stroke-dasharray="2.7 1.6" rx="1"/><text x="270.60" y="425.30" font-size="8.4" fill="#231f20" stroke="#231f20" stroke-width="0.2" textLength="21.80" lengthAdjust="spacingAndGlyphs" >54.1%</text><text x="320.30" y="425.30" font-size="8.4" fill="#c92a2e" stroke="#c92a2e" stroke-width="0.2" textLength="21.40" lengthAdjust="spacingAndGlyphs" text-anchor="end" >45.4%</text><g><path d="M332.00,414.00 C332.00,413.00 332.33,410.50 333.00,409.00 C333.67,407.50 335.00,406.17 336.00,405.00 C337.00,403.83 338.17,403.17 339.00,402.00 C339.83,400.83 340.42,399.50 341.00,398.00 C341.58,396.50 342.08,394.67 342.50,393.00 C342.92,391.33 343.10,389.17 343.50,388.00 C343.90,386.83 343.98,386.62 344.90,386.00 C345.82,385.38 347.45,384.87 349.00,384.30 C350.55,383.73 352.37,382.95 354.20,382.60 C356.03,382.25 357.85,382.30 360.00,382.20 C362.15,382.10 365.60,381.70 367.10,382.00 C368.60,382.30 368.65,382.67 369.00,384.00 C369.35,385.33 369.23,387.67 369.20,390.00 C369.17,392.33 368.92,395.38 368.80,398.00 C368.68,400.62 368.80,404.03 368.50,405.70 C368.20,407.37 368.42,407.53 367.00,408.00 C365.58,408.47 362.17,408.43 360.00,408.50 C357.83,408.57 355.48,408.77 354.00,408.40 C352.52,408.03 352.10,406.28 351.10,406.30 C350.10,406.32 349.02,407.88 348.00,408.50 C346.98,409.12 346.17,409.42 345.00,410.00 C343.83,410.58 342.33,411.25 341.00,412.00 C339.67,412.75 338.33,414.00 337.00,414.50 C335.67,415.00 333.83,415.08 333.00,415.00 C332.17,414.92 332.00,415.00 332.00,414.00 Z" fill="#1f3ff2" filter="url(#b03)"/><clipPath id="cp5"><path d="M332.00,414.00 C332.00,413.00 332.33,410.50 333.00,409.00 C333.67,407.50 335.00,406.17 336.00,405.00 C337.00,403.83 338.17,403.17 339.00,402.00 C339.83,400.83 340.42,399.50 341.00,398.00 C341.58,396.50 342.08,394.67 342.50,393.00 C342.92,391.33 343.10,389.17 343.50,388.00 C343.90,386.83 343.98,386.62 344.90,386.00 C345.82,385.38 347.45,384.87 349.00,384.30 C350.55,383.73 352.37,382.95 354.20,382.60 C356.03,382.25 357.85,382.30 360.00,382.20 C362.15,382.10 365.60,381.70 367.10,382.00 C368.60,382.30 368.65,382.67 369.00,384.00 C369.35,385.33 369.23,387.67 369.20,390.00 C369.17,392.33 368.92,395.38 368.80,398.00 C368.68,400.62 368.80,404.03 368.50,405.70 C368.20,407.37 368.42,407.53 367.00,408.00 C365.58,408.47 362.17,408.43 360.00,408.50 C357.83,408.57 355.48,408.77 354.00,408.40 C352.52,408.03 352.10,406.28 351.10,406.30 C350.10,406.32 349.02,407.88 348.00,408.50 C346.98,409.12 346.17,409.42 345.00,410.00 C343.83,410.58 342.33,411.25 341.00,412.00 C339.67,412.75 338.33,414.00 337.00,414.50 C335.67,415.00 333.83,415.08 333.00,415.00 C332.17,414.92 332.00,415.00 332.00,414.00 Z"/></clipPath><g clip-path="url(#cp5)"><path d="M332.00,414.00 C332.00,413.00 332.33,410.50 333.00,409.00 C333.67,407.50 335.00,406.17 336.00,405.00 C337.00,403.83 338.17,403.17 339.00,402.00 C339.83,400.83 340.42,399.50 341.00,398.00 C341.58,396.50 342.08,394.67 342.50,393.00 C342.92,391.33 343.10,389.17 343.50,388.00 C343.90,386.83 343.98,386.62 344.90,386.00 C345.82,385.38 347.45,384.87 349.00,384.30 C350.55,383.73 352.37,382.95 354.20,382.60 C356.03,382.25 357.85,382.30 360.00,382.20 C362.15,382.10 365.60,381.70 367.10,382.00 C368.60,382.30 368.65,382.67 369.00,384.00 C369.35,385.33 369.23,387.67 369.20,390.00 C369.17,392.33 368.92,395.38 368.80,398.00 C368.68,400.62 368.80,404.03 368.50,405.70 C368.20,407.37 368.42,407.53 367.00,408.00 C365.58,408.47 362.17,408.43 360.00,408.50 C357.83,408.57 355.48,408.77 354.00,408.40 C352.52,408.03 352.10,406.28 351.10,406.30 C350.10,406.32 349.02,407.88 348.00,408.50 C346.98,409.12 346.17,409.42 345.00,410.00 C343.83,410.58 342.33,411.25 341.00,412.00 C339.67,412.75 338.33,414.00 337.00,414.50 C335.67,415.00 333.83,415.08 333.00,415.00 C332.17,414.92 332.00,415.00 332.00,414.00 Z" fill="#3a78f4" filter="url(#b2)"/><ellipse cx="360" cy="395" rx="9.5" ry="13" fill="#3c8cf8" filter="url(#b15)" opacity="1"/><ellipse cx="360.5" cy="394.5" rx="7.8" ry="11.2" fill="#44d8f0" filter="url(#b1)" opacity="1"/><ellipse cx="360.5" cy="394.3" rx="6.5" ry="10" fill="#8cf050" filter="url(#b08)" opacity="1"/><ellipse cx="360.6" cy="391" rx="4.1" ry="3.8" fill="#f0f028" filter="url(#b08)" opacity="1"/><ellipse cx="361.4" cy="399.7" rx="3.1" ry="2.4" fill="#f0f028" filter="url(#b08)" opacity="1"/><ellipse cx="360.5" cy="390.8" rx="2.9" ry="2.3" fill="#f59020" filter="url(#b06)" opacity="1"/><ellipse cx="360.3" cy="391" rx="1.6" ry="1.3" fill="#e82010" filter="url(#b04)" opacity="1"/><ellipse cx="360.5" cy="400" rx="1.1" ry="0.8" fill="#f59020" filter="url(#b04)" opacity="1"/></g><ellipse cx="337.09999999999997" cy="409.29999999999995" rx="4.76" ry="3.315" fill="#1f3ff2" filter="url(#b03)" opacity="1" transform="rotate(-32 337.09999999999997 409.29999999999995)"/><ellipse cx="336.9" cy="408.9" rx="3.655" ry="2.55" fill="#64e4f2" filter="url(#b06)" opacity="1" transform="rotate(-32 336.9 408.9)"/><ellipse cx="336.9" cy="408.9" rx="1.9549999999999998" ry="2.21" fill="#9cf05a" filter="url(#b06)" opacity="1"/><ellipse cx="336.9" cy="408.9" rx="1.02" ry="1.19" fill="#f0f028" filter="url(#b04)" opacity="1"/><ellipse cx="336.9" cy="408.9" rx="1.292" ry="1.292" fill="#e82010" filter="url(#b04)" opacity="1"/></g><line x1="342.10" y1="360.60" x2="342.10" y2="416.60" stroke="#707070" stroke-width="1.05" /><line x1="328.20" y1="397.10" x2="377.60" y2="397.10" stroke="#707070" stroke-width="1.05" /><rect x="328.20" y="360.60" width="49.40" height="56.00" fill="none" stroke="#474747" stroke-width="1.2" rx="0.7"/><rect x="329.80" y="399.20" width="12.20" height="15.50" fill="none" stroke="#2a2a2a" stroke-width="1.05" stroke-dasharray="2.1 1.5" rx="0.8"/><rect x="343.60" y="378.80" width="31.60" height="36.50" fill="none" stroke="#d83838" stroke-width="1.0" stroke-dasharray="2.7 1.6" rx="1"/><text x="328.10" y="425.30" font-size="8.4" fill="#231f20" stroke="#231f20" stroke-width="0.2" textLength="21.80" lengthAdjust="spacingAndGlyphs" >14.4%</text><text x="377.80" y="425.30" font-size="8.4" fill="#c92a2e" stroke="#c92a2e" stroke-width="0.2" textLength="21.40" lengthAdjust="spacingAndGlyphs" text-anchor="end" >85.4%</text><g><path d="M394.20,387.80 C394.45,386.92 395.87,386.02 397.00,385.20 C398.13,384.38 399.50,383.40 401.00,382.90 C402.50,382.40 404.25,382.35 406.00,382.20 C407.75,382.05 409.67,382.00 411.50,382.00 C413.33,382.00 415.27,382.05 417.00,382.20 C418.73,382.35 420.87,382.27 421.90,382.90 C422.93,383.53 422.98,384.77 423.20,386.00 C423.42,387.23 423.20,388.47 423.20,390.30 C423.20,392.13 423.23,394.75 423.20,397.00 C423.17,399.25 423.52,402.15 423.00,403.80 C422.48,405.45 421.60,406.23 420.10,406.90 C418.60,407.57 416.15,407.58 414.00,407.80 C411.85,408.02 409.37,408.55 407.20,408.20 C405.03,407.85 402.20,406.90 401.00,405.70 C399.80,404.50 400.17,402.53 400.00,401.00 C399.83,399.47 400.35,397.77 400.00,396.50 C399.65,395.23 398.65,394.40 397.90,393.40 C397.15,392.40 396.12,391.43 395.50,390.50 C394.88,389.57 393.95,388.68 394.20,387.80 Z" fill="#1f3ff2" filter="url(#b03)"/><clipPath id="cp6"><path d="M394.20,387.80 C394.45,386.92 395.87,386.02 397.00,385.20 C398.13,384.38 399.50,383.40 401.00,382.90 C402.50,382.40 404.25,382.35 406.00,382.20 C407.75,382.05 409.67,382.00 411.50,382.00 C413.33,382.00 415.27,382.05 417.00,382.20 C418.73,382.35 420.87,382.27 421.90,382.90 C422.93,383.53 422.98,384.77 423.20,386.00 C423.42,387.23 423.20,388.47 423.20,390.30 C423.20,392.13 423.23,394.75 423.20,397.00 C423.17,399.25 423.52,402.15 423.00,403.80 C422.48,405.45 421.60,406.23 420.10,406.90 C418.60,407.57 416.15,407.58 414.00,407.80 C411.85,408.02 409.37,408.55 407.20,408.20 C405.03,407.85 402.20,406.90 401.00,405.70 C399.80,404.50 400.17,402.53 400.00,401.00 C399.83,399.47 400.35,397.77 400.00,396.50 C399.65,395.23 398.65,394.40 397.90,393.40 C397.15,392.40 396.12,391.43 395.50,390.50 C394.88,389.57 393.95,388.68 394.20,387.80 Z"/></clipPath><g clip-path="url(#cp6)"><path d="M394.20,387.80 C394.45,386.92 395.87,386.02 397.00,385.20 C398.13,384.38 399.50,383.40 401.00,382.90 C402.50,382.40 404.25,382.35 406.00,382.20 C407.75,382.05 409.67,382.00 411.50,382.00 C413.33,382.00 415.27,382.05 417.00,382.20 C418.73,382.35 420.87,382.27 421.90,382.90 C422.93,383.53 422.98,384.77 423.20,386.00 C423.42,387.23 423.20,388.47 423.20,390.30 C423.20,392.13 423.23,394.75 423.20,397.00 C423.17,399.25 423.52,402.15 423.00,403.80 C422.48,405.45 421.60,406.23 420.10,406.90 C418.60,407.57 416.15,407.58 414.00,407.80 C411.85,408.02 409.37,408.55 407.20,408.20 C405.03,407.85 402.20,406.90 401.00,405.70 C399.80,404.50 400.17,402.53 400.00,401.00 C399.83,399.47 400.35,397.77 400.00,396.50 C399.65,395.23 398.65,394.40 397.90,393.40 C397.15,392.40 396.12,391.43 395.50,390.50 C394.88,389.57 393.95,388.68 394.20,387.80 Z" fill="#3a78f4" filter="url(#b2)"/><ellipse cx="411" cy="394.5" rx="11" ry="11.5" fill="#3c8cf8" filter="url(#b15)" opacity="1"/><ellipse cx="411.5" cy="390.5" rx="11" ry="5.6" fill="#44d8f0" filter="url(#b1)" opacity="1"/><ellipse cx="411.5" cy="390.3" rx="9.8" ry="4.6" fill="#8cf050" filter="url(#b08)" opacity="1"/><ellipse cx="411.5" cy="400.2" rx="7.6" ry="4.5" fill="#44d8f0" filter="url(#b1)" opacity="1"/><ellipse cx="411" cy="400.2" rx="5.8" ry="3.5" fill="#8cf050" filter="url(#b08)" opacity="1"/><ellipse cx="418.5" cy="399.5" rx="1.5" ry="1.5" fill="#8cf050" filter="url(#b06)" opacity="1"/><ellipse cx="408.5" cy="390.5" rx="6" ry="3.6" fill="#f0f028" filter="url(#b08)" opacity="1"/><ellipse cx="417.5" cy="389.8" rx="2" ry="2" fill="#f0f028" filter="url(#b06)" opacity="1"/><ellipse cx="408.7" cy="390.3" rx="3.8" ry="2.6" fill="#f59020" filter="url(#b06)" opacity="1"/><ellipse cx="408.7" cy="390.5" rx="2.4" ry="1.8" fill="#e82010" filter="url(#b04)" opacity="1"/></g></g><ellipse cx="393" cy="408.8" rx="2.9" ry="3.4" fill="#1f3ff2" filter="url(#b03)" opacity="1"/><ellipse cx="393" cy="409" rx="2.0" ry="2.4" fill="#44d8f0" filter="url(#b04)" opacity="1"/><ellipse cx="393" cy="409" rx="1.4" ry="1.7" fill="#8cf050" filter="url(#b04)" opacity="1"/><ellipse cx="393" cy="409.2" rx="0.9" ry="1.1" fill="#f0f028" filter="url(#b04)" opacity="1"/><ellipse cx="393" cy="409.3" rx="0.45" ry="0.5" fill="#f59020" filter="url(#b04)" opacity="1"/><line x1="398.50" y1="360.60" x2="398.50" y2="416.60" stroke="#707070" stroke-width="1.05" /><line x1="384.60" y1="397.10" x2="434.00" y2="397.10" stroke="#707070" stroke-width="1.05" /><rect x="384.60" y="360.60" width="49.40" height="56.00" fill="none" stroke="#474747" stroke-width="1.2" rx="0.7"/><rect x="386.20" y="399.20" width="12.20" height="15.50" fill="none" stroke="#2a2a2a" stroke-width="1.05" stroke-dasharray="2.1 1.5" rx="0.8"/><rect x="400.00" y="378.80" width="31.60" height="36.50" fill="none" stroke="#d83838" stroke-width="1.0" stroke-dasharray="2.7 1.6" rx="1"/><text x="384.50" y="425.30" font-size="8.4" fill="#231f20" stroke="#231f20" stroke-width="0.2" textLength="21.80" lengthAdjust="spacingAndGlyphs" >9.70%</text><text x="434.20" y="425.30" font-size="8.4" fill="#c92a2e" stroke="#c92a2e" stroke-width="0.2" textLength="21.40" lengthAdjust="spacingAndGlyphs" text-anchor="end" >90.1%</text><g><path d="M445.00,414.00 C445.17,413.00 445.33,410.42 446.00,409.00 C446.67,407.58 448.00,406.83 449.00,405.50 C450.00,404.17 451.25,402.58 452.00,401.00 C452.75,399.42 453.17,397.67 453.50,396.00 C453.83,394.33 453.67,392.57 454.00,391.00 C454.33,389.43 454.50,387.52 455.50,386.60 C456.50,385.68 458.37,385.90 460.00,385.50 C461.63,385.10 463.47,384.62 465.30,384.20 C467.13,383.78 469.05,383.32 471.00,383.00 C472.95,382.68 475.48,382.10 477.00,382.30 C478.52,382.50 479.38,383.08 480.10,384.20 C480.82,385.32 481.10,387.47 481.30,389.00 C481.50,390.53 481.27,391.13 481.30,393.40 C481.33,395.67 481.80,400.45 481.50,402.60 C481.20,404.75 480.75,405.43 479.50,406.30 C478.25,407.17 475.85,407.48 474.00,407.80 C472.15,408.12 470.37,408.25 468.40,408.20 C466.43,408.15 464.10,407.28 462.20,407.50 C460.30,407.72 458.70,408.58 457.00,409.50 C455.30,410.42 453.50,412.08 452.00,413.00 C450.50,413.92 449.17,414.67 448.00,415.00 C446.83,415.33 445.50,415.17 445.00,415.00 C444.50,414.83 444.83,415.00 445.00,414.00 Z" fill="#1f3ff2" filter="url(#b03)"/><clipPath id="cp7"><path d="M445.00,414.00 C445.17,413.00 445.33,410.42 446.00,409.00 C446.67,407.58 448.00,406.83 449.00,405.50 C450.00,404.17 451.25,402.58 452.00,401.00 C452.75,399.42 453.17,397.67 453.50,396.00 C453.83,394.33 453.67,392.57 454.00,391.00 C454.33,389.43 454.50,387.52 455.50,386.60 C456.50,385.68 458.37,385.90 460.00,385.50 C461.63,385.10 463.47,384.62 465.30,384.20 C467.13,383.78 469.05,383.32 471.00,383.00 C472.95,382.68 475.48,382.10 477.00,382.30 C478.52,382.50 479.38,383.08 480.10,384.20 C480.82,385.32 481.10,387.47 481.30,389.00 C481.50,390.53 481.27,391.13 481.30,393.40 C481.33,395.67 481.80,400.45 481.50,402.60 C481.20,404.75 480.75,405.43 479.50,406.30 C478.25,407.17 475.85,407.48 474.00,407.80 C472.15,408.12 470.37,408.25 468.40,408.20 C466.43,408.15 464.10,407.28 462.20,407.50 C460.30,407.72 458.70,408.58 457.00,409.50 C455.30,410.42 453.50,412.08 452.00,413.00 C450.50,413.92 449.17,414.67 448.00,415.00 C446.83,415.33 445.50,415.17 445.00,415.00 C444.50,414.83 444.83,415.00 445.00,414.00 Z"/></clipPath><g clip-path="url(#cp7)"><path d="M445.00,414.00 C445.17,413.00 445.33,410.42 446.00,409.00 C446.67,407.58 448.00,406.83 449.00,405.50 C450.00,404.17 451.25,402.58 452.00,401.00 C452.75,399.42 453.17,397.67 453.50,396.00 C453.83,394.33 453.67,392.57 454.00,391.00 C454.33,389.43 454.50,387.52 455.50,386.60 C456.50,385.68 458.37,385.90 460.00,385.50 C461.63,385.10 463.47,384.62 465.30,384.20 C467.13,383.78 469.05,383.32 471.00,383.00 C472.95,382.68 475.48,382.10 477.00,382.30 C478.52,382.50 479.38,383.08 480.10,384.20 C480.82,385.32 481.10,387.47 481.30,389.00 C481.50,390.53 481.27,391.13 481.30,393.40 C481.33,395.67 481.80,400.45 481.50,402.60 C481.20,404.75 480.75,405.43 479.50,406.30 C478.25,407.17 475.85,407.48 474.00,407.80 C472.15,408.12 470.37,408.25 468.40,408.20 C466.43,408.15 464.10,407.28 462.20,407.50 C460.30,407.72 458.70,408.58 457.00,409.50 C455.30,410.42 453.50,412.08 452.00,413.00 C450.50,413.92 449.17,414.67 448.00,415.00 C446.83,415.33 445.50,415.17 445.00,415.00 C444.50,414.83 444.83,415.00 445.00,414.00 Z" fill="#3a78f4" filter="url(#b2)"/><ellipse cx="472.5" cy="395" rx="10" ry="13" fill="#3c8cf8" filter="url(#b15)" opacity="1"/><ellipse cx="473.3" cy="395.2" rx="8.4" ry="11.4" fill="#44d8f0" filter="url(#b1)" opacity="1"/><ellipse cx="473.3" cy="395.2" rx="7" ry="10" fill="#8cf050" filter="url(#b08)" opacity="1"/><ellipse cx="473.5" cy="391.8" rx="4.5" ry="3.5" fill="#f0f028" filter="url(#b08)" opacity="1"/><ellipse cx="474.2" cy="399.8" rx="2.6" ry="2.3" fill="#f0f028" filter="url(#b08)" opacity="1"/><ellipse cx="473.6" cy="391.2" rx="3.1" ry="2.4" fill="#f59020" filter="url(#b06)" opacity="1"/><ellipse cx="473.6" cy="391.3" rx="1.8" ry="1.4" fill="#e82010" filter="url(#b04)" opacity="1"/><ellipse cx="474" cy="400" rx="1" ry="0.9" fill="#f59020" filter="url(#b04)" opacity="1"/></g><ellipse cx="450.09999999999997" cy="409.29999999999995" rx="4.76" ry="3.315" fill="#1f3ff2" filter="url(#b03)" opacity="1" transform="rotate(-32 450.09999999999997 409.29999999999995)"/><ellipse cx="449.9" cy="408.9" rx="3.655" ry="2.55" fill="#64e4f2" filter="url(#b06)" opacity="1" transform="rotate(-32 449.9 408.9)"/><ellipse cx="449.9" cy="408.9" rx="1.9549999999999998" ry="2.21" fill="#9cf05a" filter="url(#b06)" opacity="1"/><ellipse cx="449.9" cy="408.9" rx="1.02" ry="1.19" fill="#f0f028" filter="url(#b04)" opacity="1"/><ellipse cx="449.9" cy="408.9" rx="1.292" ry="1.292" fill="#e82010" filter="url(#b04)" opacity="1"/></g><line x1="455.50" y1="360.60" x2="455.50" y2="416.60" stroke="#707070" stroke-width="1.05" /><line x1="441.60" y1="397.10" x2="491.00" y2="397.10" stroke="#707070" stroke-width="1.05" /><rect x="441.60" y="360.60" width="49.40" height="56.00" fill="none" stroke="#474747" stroke-width="1.2" rx="0.7"/><rect x="443.20" y="399.20" width="12.20" height="15.50" fill="none" stroke="#2a2a2a" stroke-width="1.05" stroke-dasharray="2.1 1.5" rx="0.8"/><rect x="457.00" y="378.80" width="31.60" height="36.50" fill="none" stroke="#d83838" stroke-width="1.0" stroke-dasharray="2.7 1.6" rx="1"/><text x="441.50" y="425.30" font-size="8.4" fill="#231f20" stroke="#231f20" stroke-width="0.2" textLength="21.80" lengthAdjust="spacingAndGlyphs" >12.7%</text><text x="491.20" y="425.30" font-size="8.4" fill="#c92a2e" stroke="#c92a2e" stroke-width="0.2" textLength="21.40" lengthAdjust="spacingAndGlyphs" text-anchor="end" >85.9%</text><line x1="29.40" y1="365.00" x2="29.40" y2="432.20" stroke="#111" stroke-width="1.0" /><path d="M29.4,361.8 L27.3,367 L31.5,367 Z" fill="#111"/><line x1="28.90" y1="432.20" x2="85.00" y2="432.20" stroke="#111" stroke-width="1.0" /><path d="M88.5,432.2 L83.3,430.1 L83.3,434.3 Z" fill="#111"/><text x="23.60" y="397.20" font-size="9.0" fill="#231f20" stroke="#231f20" stroke-width="0.2" textLength="19.80" lengthAdjust="spacingAndGlyphs" text-anchor="middle" transform="rotate(-90 23.60 397.20)" >7-AAD</text><text x="41.70" y="443.50" font-size="9.0" fill="#231f20" stroke="#231f20" stroke-width="0.2" textLength="34.20" lengthAdjust="spacingAndGlyphs" >Annexin V</text>
<text x="7.00" y="468.20" font-size="12.2" fill="#000" textLength="8.90" lengthAdjust="spacingAndGlyphs" font-weight="bold" >D</text><line x1="39.60" y1="505.90" x2="39.60" y2="610.30" stroke="#111" stroke-width="1.1" /><line x1="36.60" y1="507.50" x2="39.60" y2="507.50" stroke="#111" stroke-width="1.0" /><text x="34.30" y="510.45" font-size="8.3" fill="#222" stroke="#222" stroke-width="0.2" text-anchor="end" >100</text><line x1="36.60" y1="527.96" x2="39.60" y2="527.96" stroke="#111" stroke-width="1.0" /><text x="34.30" y="530.91" font-size="8.3" fill="#222" stroke="#222" stroke-width="0.2" text-anchor="end" >80</text><line x1="36.60" y1="548.42" x2="39.60" y2="548.42" stroke="#111" stroke-width="1.0" /><text x="34.30" y="551.37" font-size="8.3" fill="#222" stroke="#222" stroke-width="0.2" text-anchor="end" >60</text><line x1="36.60" y1="568.88" x2="39.60" y2="568.88" stroke="#111" stroke-width="1.0" /><text x="34.30" y="571.83" font-size="8.3" fill="#222" stroke="#222" stroke-width="0.2" text-anchor="end" >40</text><line x1="36.60" y1="589.34" x2="39.60" y2="589.34" stroke="#111" stroke-width="1.0" /><text x="34.30" y="592.29" font-size="8.3" fill="#222" stroke="#222" stroke-width="0.2" text-anchor="end" >20</text><line x1="36.60" y1="609.80" x2="39.60" y2="609.80" stroke="#111" stroke-width="1.0" /><text x="34.30" y="612.75" font-size="8.3" fill="#222" stroke="#222" stroke-width="0.2" text-anchor="end" >0</text><text x="15.60" y="557.20" font-size="9.0" fill="#333" stroke="#333" stroke-width="0.2" textLength="41.50" lengthAdjust="spacingAndGlyphs" text-anchor="middle" transform="rotate(-90 15.60 557.20)" >% dead cells</text><line x1="51.65" y1="592.20" x2="51.65" y2="596.30" stroke="#1a1a1a" stroke-width="0.9" /><line x1="49.95" y1="592.20" x2="53.35" y2="592.20" stroke="#1a1a1a" stroke-width="1.0" /><rect x="48.40" y="596.30" width="6.50" height="13.50" fill="#4a2268" /><line x1="61.45" y1="548.50" x2="61.45" y2="552.00" stroke="#1a1a1a" stroke-width="0.9" /><line x1="59.75" y1="548.50" x2="63.15" y2="548.50" stroke="#1a1a1a" stroke-width="1.0" /><rect x="58.20" y="552.00" width="6.50" height="57.80" fill="#b0002a" /><line x1="70.65" y1="552.40" x2="70.65" y2="554.20" stroke="#1a1a1a" stroke-width="0.9" /><line x1="68.95" y1="552.40" x2="72.35" y2="552.40" stroke="#1a1a1a" stroke-width="1.0" /><rect x="67.40" y="554.20" width="6.50" height="55.60" fill="#5a3a14" /><line x1="79.95" y1="551.50" x2="79.95" y2="553.80" stroke="#1a1a1a" stroke-width="0.9" /><line x1="78.25" y1="551.50" x2="81.65" y2="551.50" stroke="#1a1a1a" stroke-width="1.0" /><rect x="76.70" y="553.80" width="6.50" height="56.00" fill="#9488c8" /><line x1="89.35" y1="553.60" x2="89.35" y2="562.10" stroke="#1a1a1a" stroke-width="0.9" /><line x1="87.65" y1="553.60" x2="91.05" y2="553.60" stroke="#1a1a1a" stroke-width="1.0" /><rect x="86.10" y="562.10" width="6.50" height="47.70" fill="#a86420" /><line x1="98.95" y1="587.80" x2="98.95" y2="591.00" stroke="#1a1a1a" stroke-width="0.9" /><line x1="97.25" y1="587.80" x2="100.65" y2="587.80" stroke="#1a1a1a" stroke-width="1.0" /><rect x="95.70" y="591.00" width="6.50" height="18.80" fill="#66a840" /><line x1="108.35" y1="588.30" x2="108.35" y2="591.30" stroke="#1a1a1a" stroke-width="0.9" /><line x1="106.65" y1="588.30" x2="110.05" y2="588.30" stroke="#1a1a1a" stroke-width="1.0" /><rect x="105.10" y="591.30" width="6.50" height="18.50" fill="#e08a18" /><line x1="118.05" y1="589.60" x2="118.05" y2="592.20" stroke="#1a1a1a" stroke-width="0.9" /><line x1="116.35" y1="589.60" x2="119.75" y2="589.60" stroke="#1a1a1a" stroke-width="1.0" /><rect x="114.80" y="592.20" width="6.50" height="17.60" fill="#68aee6" /><line x1="127.45" y1="573.10" x2="127.45" y2="582.80" stroke="#1a1a1a" stroke-width="0.9" /><line x1="125.75" y1="573.10" x2="129.15" y2="573.10" stroke="#1a1a1a" stroke-width="1.0" /><rect x="124.20" y="582.80" width="6.50" height="27.00" fill="#2e6a4c" /><line x1="149.50" y1="513.50" x2="149.50" y2="519.60" stroke="#1a1a1a" stroke-width="0.9" /><line x1="147.80" y1="513.50" x2="151.20" y2="513.50" stroke="#1a1a1a" stroke-width="1.0" /><rect x="146.20" y="519.60" width="6.60" height="90.20" fill="#66a840" /><line x1="158.95" y1="512.30" x2="158.95" y2="515.40" stroke="#1a1a1a" stroke-width="0.9" /><line x1="157.25" y1="512.30" x2="160.65" y2="512.30" stroke="#1a1a1a" stroke-width="1.0" /><rect x="155.65" y="515.40" width="6.60" height="94.40" fill="#e08a18" /><line x1="168.40" y1="515.40" x2="168.40" y2="520.80" stroke="#1a1a1a" stroke-width="0.9" /><line x1="166.70" y1="515.40" x2="170.10" y2="515.40" stroke="#1a1a1a" stroke-width="1.0" /><rect x="165.10" y="520.80" width="6.60" height="89.00" fill="#68aee6" /><line x1="158.80" y1="609.80" x2="158.80" y2="612.40" stroke="#111" stroke-width="1.0" /><line x1="193.10" y1="511.30" x2="193.10" y2="515.80" stroke="#1a1a1a" stroke-width="0.9" /><line x1="191.40" y1="511.30" x2="194.80" y2="511.30" stroke="#1a1a1a" stroke-width="1.0" /><rect x="189.80" y="515.80" width="6.60" height="94.00" fill="#66a840" /><line x1="202.55" y1="512.30" x2="202.55" y2="514.80" stroke="#1a1a1a" stroke-width="0.9" /><line x1="200.85" y1="512.30" x2="204.25" y2="512.30" stroke="#1a1a1a" stroke-width="1.0" /><rect x="199.25" y="514.80" width="6.60" height="95.00" fill="#e08a18" /><line x1="212.00" y1="513.80" x2="212.00" y2="518.00" stroke="#1a1a1a" stroke-width="0.9" /><line x1="210.30" y1="513.80" x2="213.70" y2="513.80" stroke="#1a1a1a" stroke-width="1.0" /><rect x="208.70" y="518.00" width="6.60" height="91.80" fill="#68aee6" /><line x1="202.40" y1="609.80" x2="202.40" y2="612.40" stroke="#111" stroke-width="1.0" /><line x1="236.80" y1="515.00" x2="236.80" y2="518.90" stroke="#1a1a1a" stroke-width="0.9" /><line x1="235.10" y1="515.00" x2="238.50" y2="515.00" stroke="#1a1a1a" stroke-width="1.0" /><rect x="233.50" y="518.90" width="6.60" height="90.90" fill="#66a840" /><line x1="246.25" y1="516.60" x2="246.25" y2="519.80" stroke="#1a1a1a" stroke-width="0.9" /><line x1="244.55" y1="516.60" x2="247.95" y2="516.60" stroke="#1a1a1a" stroke-width="1.0" /><rect x="242.95" y="519.80" width="6.60" height="90.00" fill="#e08a18" /><line x1="255.70" y1="517.30" x2="255.70" y2="521.50" stroke="#1a1a1a" stroke-width="0.9" /><line x1="254.00" y1="517.30" x2="257.40" y2="517.30" stroke="#1a1a1a" stroke-width="1.0" /><rect x="252.40" y="521.50" width="6.60" height="88.30" fill="#68aee6" /><line x1="246.10" y1="609.80" x2="246.10" y2="612.40" stroke="#111" stroke-width="1.0" /><line x1="280.20" y1="512.70" x2="280.20" y2="517.30" stroke="#1a1a1a" stroke-width="0.9" /><line x1="278.50" y1="512.70" x2="281.90" y2="512.70" stroke="#1a1a1a" stroke-width="1.0" /><rect x="276.90" y="517.30" width="6.60" height="92.50" fill="#66a840" /><line x1="289.65" y1="512.70" x2="289.65" y2="516.20" stroke="#1a1a1a" stroke-width="0.9" /><line x1="287.95" y1="512.70" x2="291.35" y2="512.70" stroke="#1a1a1a" stroke-width="1.0" /><rect x="286.35" y="516.20" width="6.60" height="93.60" fill="#e08a18" /><line x1="299.10" y1="514.50" x2="299.10" y2="520.30" stroke="#1a1a1a" stroke-width="0.9" /><line x1="297.40" y1="514.50" x2="300.80" y2="514.50" stroke="#1a1a1a" stroke-width="1.0" /><rect x="295.80" y="520.30" width="6.60" height="89.50" fill="#68aee6" /><line x1="289.50" y1="609.80" x2="289.50" y2="612.40" stroke="#111" stroke-width="1.0" /><line x1="323.40" y1="561.20" x2="323.40" y2="567.40" stroke="#1a1a1a" stroke-width="0.9" /><line x1="321.70" y1="561.20" x2="325.10" y2="561.20" stroke="#1a1a1a" stroke-width="1.0" /><rect x="320.10" y="567.40" width="6.60" height="42.40" fill="#66a840" /><line x1="332.85" y1="555.80" x2="332.85" y2="564.20" stroke="#1a1a1a" stroke-width="0.9" /><line x1="331.15" y1="555.80" x2="334.55" y2="555.80" stroke="#1a1a1a" stroke-width="1.0" /><rect x="329.55" y="564.20" width="6.60" height="45.60" fill="#e08a18" /><line x1="342.30" y1="548.50" x2="342.30" y2="565.10" stroke="#1a1a1a" stroke-width="0.9" /><line x1="340.60" y1="548.50" x2="344.00" y2="548.50" stroke="#1a1a1a" stroke-width="1.0" /><rect x="339.00" y="565.10" width="6.60" height="44.70" fill="#68aee6" /><line x1="332.70" y1="609.80" x2="332.70" y2="612.40" stroke="#111" stroke-width="1.0" /><line x1="39.60" y1="609.80" x2="353.40" y2="609.80" stroke="#111" stroke-width="1.1" /><line x1="58.20" y1="534.00" x2="120.10" y2="534.00" stroke="#222" stroke-width="1.25" /><polyline points="88.6,534 88.6,496.3 223.5,496.3 223.5,509.1" fill="none" stroke="#222" stroke-width="1.2"/><line x1="143.00" y1="509.10" x2="301.80" y2="509.10" stroke="#222" stroke-width="1.2" /><text x="149.60" y="496.70" font-size="7.6" fill="#222" textLength="12.60" lengthAdjust="spacingAndGlyphs" font-weight="bold" >****</text><text x="58.90" y="623.40" font-size="8.5" fill="#231f20" stroke="#231f20" stroke-width="0.2" textLength="61.40" lengthAdjust="spacingAndGlyphs" >Single Treatment</text><text x="137.80" y="623.40" font-size="8.5" fill="#231f20" stroke="#231f20" stroke-width="0.2" textLength="41.20" lengthAdjust="spacingAndGlyphs" >Quizartinib</text><text x="183.80" y="623.40" font-size="8.5" fill="#231f20" stroke="#231f20" stroke-width="0.2" textLength="38.50" lengthAdjust="spacingAndGlyphs" >Gilteritinib</text><text x="224.90" y="623.40" font-size="8.5" fill="#231f20" stroke="#231f20" stroke-width="0.2" textLength="42.60" lengthAdjust="spacingAndGlyphs" >Midostaurin</text><text x="272.30" y="623.40" font-size="8.5" fill="#231f20" stroke="#231f20" stroke-width="0.2" textLength="35.00" lengthAdjust="spacingAndGlyphs" >Sorafenib</text><text x="313.40" y="623.40" font-size="8.5" fill="#231f20" stroke="#231f20" stroke-width="0.2" textLength="39.00" lengthAdjust="spacingAndGlyphs" >Cytarabine</text><line x1="138.00" y1="627.40" x2="353.40" y2="627.40" stroke="#333" stroke-width="1.1" /><text x="205.90" y="639.50" font-size="9.8" fill="#231f20" stroke="#231f20" stroke-width="0.2" textLength="80.00" lengthAdjust="spacingAndGlyphs" >Combination treatment</text><rect x="248.10" y="472.50" width="5.70" height="5.60" fill="#4a2268" /><text x="257.40" y="478.00" font-size="8.4" fill="#231f20" stroke="#231f20" stroke-width="0.2" textLength="23.40" lengthAdjust="spacingAndGlyphs" >DMSO</text><rect x="248.10" y="483.80" width="5.70" height="5.60" fill="#b0002a" /><text x="257.40" y="489.30" font-size="8.4" fill="#231f20" stroke="#231f20" stroke-width="0.2" textLength="37.80" lengthAdjust="spacingAndGlyphs" >Quizartinib</text><rect x="248.10" y="495.10" width="5.70" height="5.60" fill="#5a3a14" /><text x="257.40" y="500.60" font-size="8.4" fill="#231f20" stroke="#231f20" stroke-width="0.2" textLength="36.00" lengthAdjust="spacingAndGlyphs" >Gilteritinib</text><rect x="306.90" y="472.50" width="5.70" height="5.60" fill="#9488c8" /><text x="316.20" y="478.00" font-size="8.4" fill="#231f20" stroke="#231f20" stroke-width="0.2" textLength="41.00" lengthAdjust="spacingAndGlyphs" >Midostaurin</text><rect x="306.90" y="483.80" width="5.70" height="5.60" fill="#a86420" /><text x="316.20" y="489.30" font-size="8.4" fill="#231f20" stroke="#231f20" stroke-width="0.2" textLength="33.50" lengthAdjust="spacingAndGlyphs" >Sorafenib</text><rect x="306.90" y="495.10" width="5.70" height="5.60" fill="#2e6a4c" /><text x="316.20" y="500.60" font-size="8.4" fill="#231f20" stroke="#231f20" stroke-width="0.2" textLength="37.50" lengthAdjust="spacingAndGlyphs" >Cytarabine</text><rect x="368.50" y="472.50" width="5.70" height="5.60" fill="#66a840" /><text x="377.80" y="478.00" font-size="8.4" fill="#231f20" stroke="#231f20" stroke-width="0.2" textLength="13.30" lengthAdjust="spacingAndGlyphs" >Dex</text><rect x="368.50" y="483.80" width="5.70" height="5.60" fill="#e08a18" /><text x="377.80" y="489.30" font-size="8.4" fill="#231f20" stroke="#231f20" stroke-width="0.2" textLength="16.60" lengthAdjust="spacingAndGlyphs" >Pred</text><rect x="368.50" y="495.10" width="5.70" height="5.60" fill="#68aee6" /><text x="377.80" y="500.60" font-size="8.4" fill="#231f20" stroke="#231f20" stroke-width="0.2" textLength="18.30" lengthAdjust="spacingAndGlyphs" >Triam</text><text x="371.80" y="533.60" font-size="12.2" fill="#000" textLength="7.20" lengthAdjust="spacingAndGlyphs" font-weight="bold" >E</text><line x1="408.50" y1="538.80" x2="408.50" y2="610.60" stroke="#111" stroke-width="1.1" /><line x1="408.50" y1="610.10" x2="513.10" y2="610.10" stroke="#111" stroke-width="1.1" /><line x1="405.60" y1="540.40" x2="408.50" y2="540.40" stroke="#111" stroke-width="1.0" /><text x="402.60" y="543.35" font-size="8.5" fill="#222" stroke="#222" stroke-width="0.2" text-anchor="end" >10</text><line x1="405.60" y1="575.25" x2="408.50" y2="575.25" stroke="#111" stroke-width="1.0" /><text x="402.60" y="578.20" font-size="8.5" fill="#222" stroke="#222" stroke-width="0.2" text-anchor="end" >5</text><line x1="405.60" y1="610.10" x2="408.50" y2="610.10" stroke="#111" stroke-width="1.0" /><text x="402.60" y="613.05" font-size="8.5" fill="#222" stroke="#222" stroke-width="0.2" text-anchor="end" >0</text><text x="388.20" y="574.00" font-size="9.0" fill="#333" stroke="#333" stroke-width="0.2" textLength="41.60" lengthAdjust="spacingAndGlyphs" text-anchor="middle" transform="rotate(-90 388.20 574.00)" >% dead cells</text><text x="430.60" y="545.00" font-size="8.2" fill="#222" stroke="#222" stroke-width="0.2" textLength="60.60" lengthAdjust="spacingAndGlyphs" >THP-1 (FLT3 WT)</text><line x1="424.65" y1="574.30" x2="424.65" y2="577.80" stroke="#1a1a1a" stroke-width="0.9" /><line x1="422.95" y1="574.30" x2="426.35" y2="574.30" stroke="#1a1a1a" stroke-width="1.0" /><rect x="417.30" y="577.80" width="14.70" height="32.30" fill="#4a2262" /><line x1="448.45" y1="560.50" x2="448.45" y2="564.20" stroke="#1a1a1a" stroke-width="0.9" /><line x1="446.75" y1="560.50" x2="450.15" y2="560.50" stroke="#1a1a1a" stroke-width="1.0" /><rect x="441.10" y="564.20" width="14.70" height="45.90" fill="#66a840" /><line x1="471.95" y1="578.00" x2="471.95" y2="580.30" stroke="#1a1a1a" stroke-width="0.9" /><line x1="470.25" y1="578.00" x2="473.65" y2="578.00" stroke="#1a1a1a" stroke-width="1.0" /><rect x="464.60" y="580.30" width="14.70" height="29.80" fill="#b0002a" /><line x1="495.75" y1="561.20" x2="495.75" y2="564.20" stroke="#1a1a1a" stroke-width="0.9" /><line x1="494.05" y1="561.20" x2="497.45" y2="561.20" stroke="#1a1a1a" stroke-width="1.0" /><rect x="488.40" y="564.20" width="14.70" height="45.90" fill="#2a4a80" /><text x="412.70" y="620.00" font-size="7.9" fill="#222" stroke="#222" stroke-width="0.2" textLength="23.80" lengthAdjust="spacingAndGlyphs" >DMSO</text><text x="441.50" y="620.00" font-size="7.9" fill="#222" stroke="#222" stroke-width="0.2" textLength="14.00" lengthAdjust="spacingAndGlyphs" >Dex</text><text x="464.60" y="620.00" font-size="7.9" fill="#222" stroke="#222" stroke-width="0.2" textLength="15.20" lengthAdjust="spacingAndGlyphs" >Quiz</text><text x="485.40" y="620.00" font-size="7.9" fill="#222" stroke="#222" stroke-width="0.2" textLength="21.30" lengthAdjust="spacingAndGlyphs" >Quiz+</text><text x="488.80" y="629.70" font-size="7.9" fill="#222" stroke="#222" stroke-width="0.2" textLength="14.00" lengthAdjust="spacingAndGlyphs" >Dex</text>
<rect x="0.5" y="0.5" width="519" height="648" fill="none" stroke="#000" stroke-width="1.2"/>
</svg>
</body></html>
